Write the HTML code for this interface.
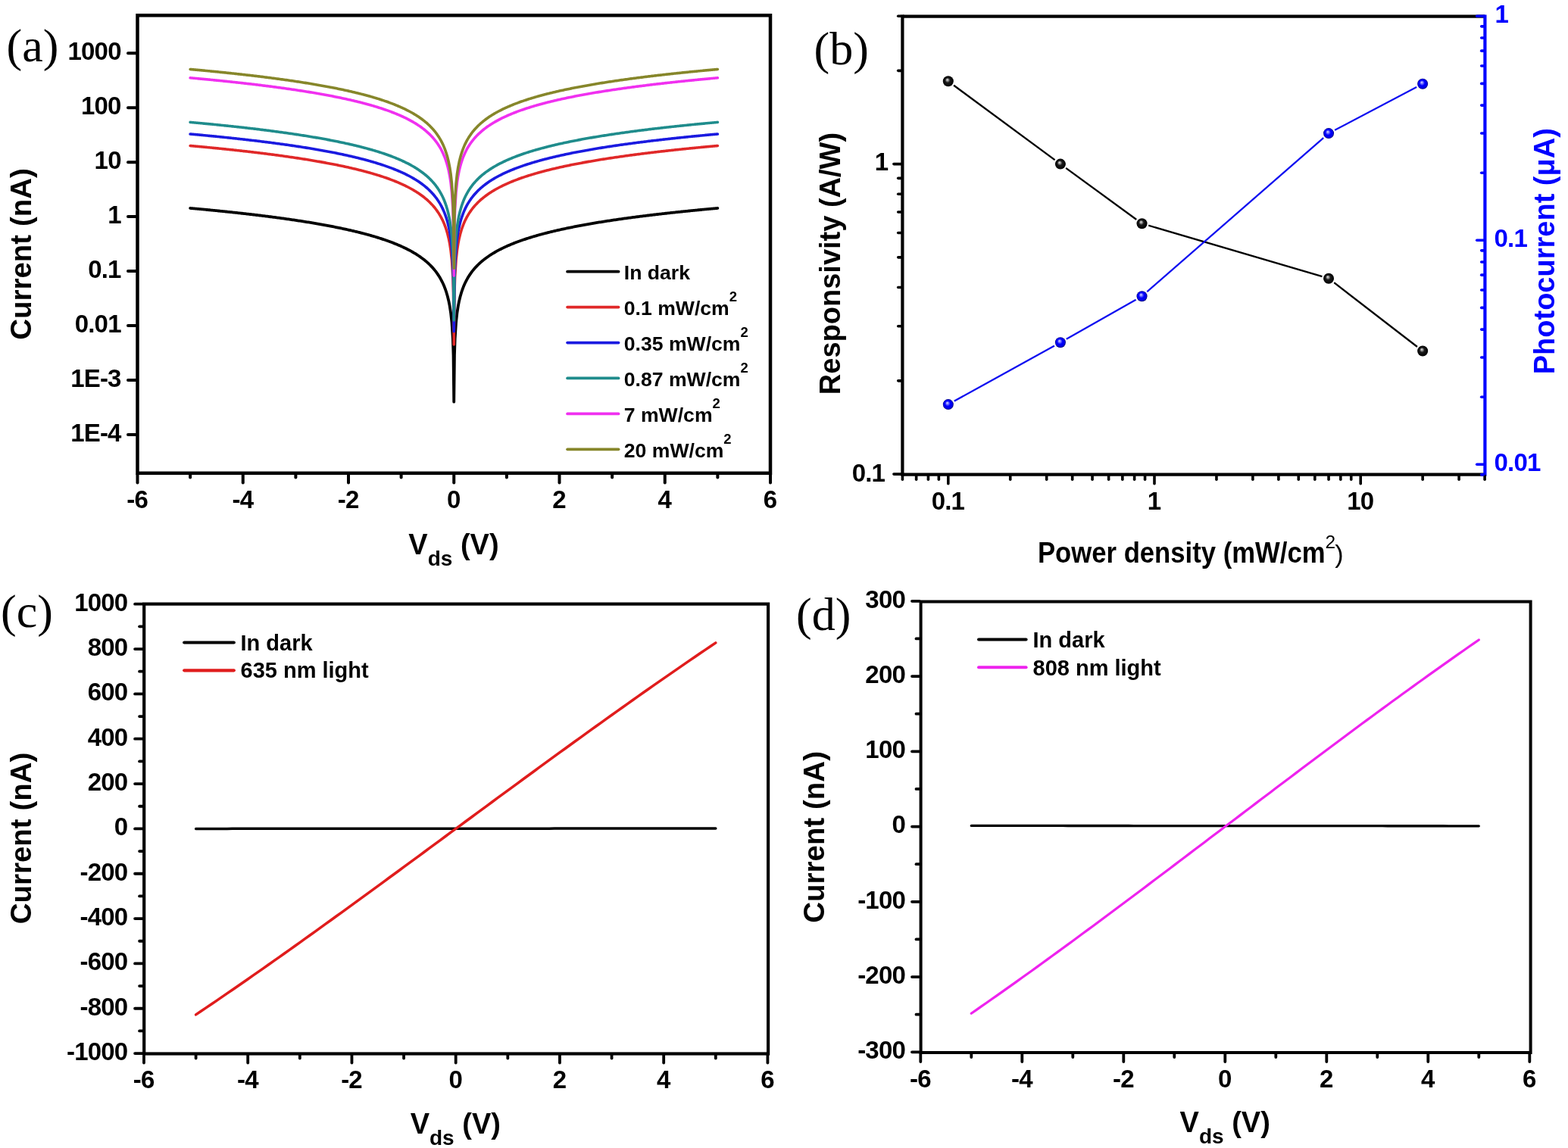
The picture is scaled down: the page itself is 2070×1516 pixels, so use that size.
<!DOCTYPE html>
<html><head><meta charset="utf-8"><title>Photodetector characteristics</title>
<style>html,body{margin:0;padding:0;background:#fff;overflow:hidden}svg{display:block}</style>
</head><body>
<svg xmlns="http://www.w3.org/2000/svg" width="2070" height="1516" viewBox="0 0 2070 1516"><polyline points="251.12,274.92 252.52,275.05 253.91,275.17 255.3,275.3 256.69,275.42 258.09,275.55 259.48,275.68 260.87,275.81 262.26,275.94 263.66,276.07 265.05,276.2 266.44,276.33 267.84,276.46 269.23,276.59 270.62,276.72 272.01,276.85 273.41,276.99 274.8,277.12 276.19,277.26 277.58,277.39 278.98,277.53 280.37,277.66 281.76,277.8 283.15,277.94 284.55,278.08 285.94,278.21 287.33,278.35 288.72,278.49 290.11,278.63 291.51,278.77 292.9,278.92 294.29,279.06 295.69,279.2 297.08,279.35 298.47,279.49 299.86,279.63 301.25,279.78 302.65,279.93 304.04,280.07 305.43,280.22 306.82,280.37 308.22,280.52 309.61,280.67 311,280.82 312.39,280.97 313.79,281.12 315.18,281.28 316.57,281.43 317.97,281.58 319.36,281.74 320.75,281.9 322.14,282.05 323.53,282.21 324.93,282.37 326.32,282.53 327.71,282.69 329.11,282.85 330.5,283.01 331.89,283.17 333.28,283.33 334.68,283.5 336.07,283.66 337.46,283.83 338.85,284 340.25,284.16 341.64,284.33 343.03,284.5 344.42,284.67 345.81,284.84 347.21,285.02 348.6,285.19 349.99,285.36 351.38,285.54 352.78,285.71 354.17,285.89 355.56,286.07 356.96,286.25 358.35,286.43 359.74,286.61 361.13,286.79 362.52,286.97 363.92,287.16 365.31,287.34 366.7,287.53 368.1,287.72 369.49,287.91 370.88,288.1 372.27,288.29 373.66,288.48 375.06,288.67 376.45,288.87 377.84,289.07 379.24,289.26 380.63,289.46 382.02,289.66 383.41,289.86 384.8,290.06 386.2,290.27 387.59,290.47 388.98,290.68 390.38,290.89 391.77,291.1 393.16,291.31 394.55,291.52 395.95,291.73 397.34,291.95 398.73,292.16 400.12,292.38 401.51,292.6 402.91,292.82 404.3,293.04 405.69,293.27 407.09,293.49 408.48,293.72 409.87,293.95 411.26,294.18 412.65,294.41 414.05,294.65 415.44,294.88 416.83,295.12 418.23,295.36 419.62,295.6 421.01,295.84 422.4,296.09 423.79,296.34 425.19,296.59 426.58,296.84 427.97,297.09 429.37,297.34 430.76,297.6 432.15,297.86 433.54,298.12 434.94,298.39 436.33,298.65 437.72,298.92 439.11,299.19 440.5,299.46 441.9,299.74 443.29,300.02 444.68,300.3 446.07,300.58 447.47,300.87 448.86,301.15 450.25,301.45 451.64,301.74 453.04,302.04 454.43,302.33 455.82,302.64 457.21,302.94 458.61,303.25 460,303.56 461.39,303.87 462.79,304.19 464.18,304.51 465.57,304.84 466.96,305.16 468.36,305.49 469.75,305.83 471.14,306.17 472.53,306.51 473.93,306.85 475.32,307.2 476.71,307.56 478.1,307.91 479.5,308.27 480.89,308.64 482.28,309.01 483.67,309.38 485.06,309.76 486.46,310.15 487.85,310.53 489.24,310.93 490.63,311.33 492.03,311.73 493.42,312.14 494.81,312.55 496.2,312.97 497.6,313.4 498.99,313.83 500.38,314.27 501.77,314.71 503.17,315.16 504.56,315.61 505.95,316.08 507.34,316.55 508.74,317.02 510.13,317.51 511.52,318 512.91,318.5 514.31,319.01 515.7,319.53 517.09,320.05 518.48,320.59 519.88,321.13 521.27,321.68 522.66,322.25 524.06,322.82 525.45,323.4 526.84,324 528.23,324.61 529.62,325.23 531.02,325.86 532.41,326.5 533.8,327.16 535.19,327.83 536.59,328.52 537.98,329.22 539.37,329.94 540.77,330.67 542.16,331.43 543.55,332.2 544.94,332.99 546.34,333.8 547.73,334.64 549.12,335.49 550.51,336.37 551.9,337.28 553.3,338.21 554.69,339.17 556.08,340.17 557.48,341.19 558.87,342.25 560.26,343.35 561.65,344.48 563.05,345.66 564.44,346.89 565.83,348.17 567.22,349.5 568.62,350.89 570.01,352.34 571.4,353.87 572.79,355.47 574.18,357.16 575.58,358.94 576.97,360.84 578.36,362.86 579.75,365.01 581.15,367.33 582.54,369.83 583.93,372.55 585.33,375.53 586.72,378.82 588.11,382.5 589.5,386.68 590.89,391.5 592.29,397.2 593.68,404.17 595.07,413.16 596.46,425.84 597.86,447.5 598.55,469.17 599.25,530.65 599.95,469.17 600.64,447.5 602.04,425.84 603.43,413.16 604.82,404.17 606.21,397.2 607.61,391.5 609,386.68 610.39,382.5 611.78,378.82 613.17,375.53 614.57,372.55 615.96,369.83 617.35,367.33 618.75,365.01 620.14,362.86 621.53,360.84 622.92,358.94 624.32,357.16 625.71,355.47 627.1,353.87 628.49,352.34 629.88,350.89 631.28,349.5 632.67,348.17 634.06,346.89 635.45,345.66 636.85,344.48 638.24,343.35 639.63,342.25 641.02,341.19 642.42,340.17 643.81,339.17 645.2,338.21 646.6,337.28 647.99,336.37 649.38,335.49 650.77,334.64 652.16,333.8 653.56,332.99 654.95,332.2 656.34,331.43 657.73,330.67 659.13,329.94 660.52,329.22 661.91,328.52 663.31,327.83 664.7,327.16 666.09,326.5 667.48,325.86 668.88,325.23 670.27,324.61 671.66,324 673.05,323.4 674.44,322.82 675.84,322.25 677.23,321.68 678.62,321.13 680.02,320.59 681.41,320.05 682.8,319.53 684.19,319.01 685.59,318.5 686.98,318 688.37,317.51 689.76,317.02 691.15,316.55 692.55,316.08 693.94,315.61 695.33,315.16 696.73,314.71 698.12,314.27 699.51,313.83 700.9,313.4 702.29,312.97 703.69,312.55 705.08,312.14 706.47,311.73 707.87,311.33 709.26,310.93 710.65,310.53 712.04,310.15 713.43,309.76 714.83,309.38 716.22,309.01 717.61,308.64 719,308.27 720.4,307.91 721.79,307.56 723.18,307.2 724.57,306.85 725.97,306.51 727.36,306.17 728.75,305.83 730.14,305.49 731.54,305.16 732.93,304.84 734.32,304.51 735.72,304.19 737.11,303.87 738.5,303.56 739.89,303.25 741.28,302.94 742.68,302.64 744.07,302.33 745.46,302.04 746.86,301.74 748.25,301.45 749.64,301.15 751.03,300.87 752.42,300.58 753.82,300.3 755.21,300.02 756.6,299.74 758,299.46 759.39,299.19 760.78,298.92 762.17,298.65 763.56,298.39 764.96,298.12 766.35,297.86 767.74,297.6 769.13,297.34 770.53,297.09 771.92,296.84 773.31,296.59 774.71,296.34 776.1,296.09 777.49,295.84 778.88,295.6 780.27,295.36 781.67,295.12 783.06,294.88 784.45,294.65 785.84,294.41 787.24,294.18 788.63,293.95 790.02,293.72 791.41,293.49 792.81,293.27 794.2,293.04 795.59,292.82 796.99,292.6 798.38,292.38 799.77,292.16 801.16,291.95 802.55,291.73 803.95,291.52 805.34,291.31 806.73,291.1 808.12,290.89 809.52,290.68 810.91,290.47 812.3,290.27 813.7,290.06 815.09,289.86 816.48,289.66 817.87,289.46 819.26,289.26 820.66,289.07 822.05,288.87 823.44,288.67 824.84,288.48 826.23,288.29 827.62,288.1 829.01,287.91 830.41,287.72 831.8,287.53 833.19,287.34 834.58,287.16 835.98,286.97 837.37,286.79 838.76,286.61 840.15,286.43 841.54,286.25 842.94,286.07 844.33,285.89 845.72,285.71 847.12,285.54 848.51,285.36 849.9,285.19 851.29,285.02 852.69,284.84 854.08,284.67 855.47,284.5 856.86,284.33 858.25,284.16 859.65,284 861.04,283.83 862.43,283.66 863.83,283.5 865.22,283.33 866.61,283.17 868,283.01 869.39,282.85 870.79,282.69 872.18,282.53 873.57,282.37 874.97,282.21 876.36,282.05 877.75,281.9 879.14,281.74 880.53,281.58 881.93,281.43 883.32,281.28 884.71,281.12 886.11,280.97 887.5,280.82 888.89,280.67 890.28,280.52 891.67,280.37 893.07,280.22 894.46,280.07 895.85,279.93 897.25,279.78 898.64,279.63 900.03,279.49 901.42,279.35 902.81,279.2 904.21,279.06 905.6,278.92 906.99,278.77 908.39,278.63 909.78,278.49 911.17,278.35 912.56,278.21 913.95,278.08 915.35,277.94 916.74,277.8 918.13,277.66 919.52,277.53 920.92,277.39 922.31,277.26 923.7,277.12 925.09,276.99 926.49,276.85 927.88,276.72 929.27,276.59 930.66,276.46 932.06,276.33 933.45,276.2 934.84,276.07 936.24,275.94 937.63,275.81 939.02,275.68 940.41,275.55 941.8,275.42 943.2,275.3 944.59,275.17 945.98,275.05 947.38,274.92" fill="none" stroke="#000000" stroke-width="3.8" stroke-linejoin="round" stroke-linecap="round"/>
<polyline points="251.12,192.46 252.52,192.59 253.91,192.72 255.3,192.84 256.69,192.97 258.09,193.1 259.48,193.22 260.87,193.35 262.26,193.48 263.66,193.61 265.05,193.74 266.44,193.87 267.84,194 269.23,194.13 270.62,194.27 272.01,194.4 273.41,194.53 274.8,194.67 276.19,194.8 277.58,194.94 278.98,195.07 280.37,195.21 281.76,195.34 283.15,195.48 284.55,195.62 285.94,195.76 287.33,195.9 288.72,196.04 290.11,196.18 291.51,196.32 292.9,196.46 294.29,196.6 295.69,196.75 297.08,196.89 298.47,197.03 299.86,197.18 301.25,197.32 302.65,197.47 304.04,197.62 305.43,197.77 306.82,197.91 308.22,198.06 309.61,198.21 311,198.36 312.39,198.52 313.79,198.67 315.18,198.82 316.57,198.97 317.97,199.13 319.36,199.28 320.75,199.44 322.14,199.6 323.53,199.75 324.93,199.91 326.32,200.07 327.71,200.23 329.11,200.39 330.5,200.55 331.89,200.72 333.28,200.88 334.68,201.04 336.07,201.21 337.46,201.37 338.85,201.54 340.25,201.71 341.64,201.88 343.03,202.05 344.42,202.22 345.81,202.39 347.21,202.56 348.6,202.73 349.99,202.91 351.38,203.08 352.78,203.26 354.17,203.44 355.56,203.61 356.96,203.79 358.35,203.97 359.74,204.15 361.13,204.34 362.52,204.52 363.92,204.7 365.31,204.89 366.7,205.08 368.1,205.26 369.49,205.45 370.88,205.64 372.27,205.83 373.66,206.03 375.06,206.22 376.45,206.41 377.84,206.61 379.24,206.81 380.63,207.01 382.02,207.21 383.41,207.41 384.8,207.61 386.2,207.81 387.59,208.02 388.98,208.22 390.38,208.43 391.77,208.64 393.16,208.85 394.55,209.06 395.95,209.28 397.34,209.49 398.73,209.71 400.12,209.93 401.51,210.14 402.91,210.37 404.3,210.59 405.69,210.81 407.09,211.04 408.48,211.26 409.87,211.49 411.26,211.72 412.65,211.96 414.05,212.19 415.44,212.43 416.83,212.66 418.23,212.9 419.62,213.15 421.01,213.39 422.4,213.63 423.79,213.88 425.19,214.13 426.58,214.38 427.97,214.63 429.37,214.89 430.76,215.15 432.15,215.41 433.54,215.67 434.94,215.93 436.33,216.2 437.72,216.47 439.11,216.74 440.5,217.01 441.9,217.28 443.29,217.56 444.68,217.84 446.07,218.13 447.47,218.41 448.86,218.7 450.25,218.99 451.64,219.28 453.04,219.58 454.43,219.88 455.82,220.18 457.21,220.49 458.61,220.79 460,221.1 461.39,221.42 462.79,221.74 464.18,222.06 465.57,222.38 466.96,222.71 468.36,223.04 469.75,223.37 471.14,223.71 472.53,224.05 473.93,224.4 475.32,224.75 476.71,225.1 478.1,225.46 479.5,225.82 480.89,226.18 482.28,226.55 483.67,226.93 485.06,227.31 486.46,227.69 487.85,228.08 489.24,228.47 490.63,228.87 492.03,229.27 493.42,229.68 494.81,230.1 496.2,230.52 497.6,230.94 498.99,231.37 500.38,231.81 501.77,232.25 503.17,232.7 504.56,233.16 505.95,233.62 507.34,234.09 508.74,234.57 510.13,235.05 511.52,235.55 512.91,236.05 514.31,236.55 515.7,237.07 517.09,237.6 518.48,238.13 519.88,238.67 521.27,239.23 522.66,239.79 524.06,240.36 525.45,240.95 526.84,241.54 528.23,242.15 529.62,242.77 531.02,243.4 532.41,244.05 533.8,244.7 535.19,245.38 536.59,246.06 537.98,246.77 539.37,247.48 540.77,248.22 542.16,248.97 543.55,249.74 544.94,250.54 546.34,251.35 547.73,252.18 549.12,253.04 550.51,253.92 551.9,254.82 553.3,255.76 554.69,256.72 556.08,257.71 557.48,258.74 558.87,259.8 560.26,260.89 561.65,262.03 563.05,263.21 564.44,264.43 565.83,265.71 567.22,267.04 568.62,268.43 570.01,269.88 571.4,271.41 572.79,273.01 574.18,274.7 575.58,276.49 576.97,278.38 578.36,280.4 579.75,282.56 581.15,284.87 582.54,287.38 583.93,290.1 585.33,293.07 586.72,296.37 588.11,300.05 589.5,304.22 590.89,309.04 592.29,314.74 593.68,321.71 595.07,330.71 596.46,343.38 597.86,365.04 598.55,386.71 599.25,455 599.95,386.71 600.64,365.04 602.04,343.38 603.43,330.71 604.82,321.71 606.21,314.74 607.61,309.04 609,304.22 610.39,300.05 611.78,296.37 613.17,293.07 614.57,290.1 615.96,287.38 617.35,284.87 618.75,282.56 620.14,280.4 621.53,278.38 622.92,276.49 624.32,274.7 625.71,273.01 627.1,271.41 628.49,269.88 629.88,268.43 631.28,267.04 632.67,265.71 634.06,264.43 635.45,263.21 636.85,262.03 638.24,260.89 639.63,259.8 641.02,258.74 642.42,257.71 643.81,256.72 645.2,255.76 646.6,254.82 647.99,253.92 649.38,253.04 650.77,252.18 652.16,251.35 653.56,250.54 654.95,249.74 656.34,248.97 657.73,248.22 659.13,247.48 660.52,246.77 661.91,246.06 663.31,245.38 664.7,244.7 666.09,244.05 667.48,243.4 668.88,242.77 670.27,242.15 671.66,241.54 673.05,240.95 674.44,240.36 675.84,239.79 677.23,239.23 678.62,238.67 680.02,238.13 681.41,237.6 682.8,237.07 684.19,236.55 685.59,236.05 686.98,235.55 688.37,235.05 689.76,234.57 691.15,234.09 692.55,233.62 693.94,233.16 695.33,232.7 696.73,232.25 698.12,231.81 699.51,231.37 700.9,230.94 702.29,230.52 703.69,230.1 705.08,229.68 706.47,229.27 707.87,228.87 709.26,228.47 710.65,228.08 712.04,227.69 713.43,227.31 714.83,226.93 716.22,226.55 717.61,226.18 719,225.82 720.4,225.46 721.79,225.1 723.18,224.75 724.57,224.4 725.97,224.05 727.36,223.71 728.75,223.37 730.14,223.04 731.54,222.71 732.93,222.38 734.32,222.06 735.72,221.74 737.11,221.42 738.5,221.1 739.89,220.79 741.28,220.49 742.68,220.18 744.07,219.88 745.46,219.58 746.86,219.28 748.25,218.99 749.64,218.7 751.03,218.41 752.42,218.13 753.82,217.84 755.21,217.56 756.6,217.28 758,217.01 759.39,216.74 760.78,216.47 762.17,216.2 763.56,215.93 764.96,215.67 766.35,215.41 767.74,215.15 769.13,214.89 770.53,214.63 771.92,214.38 773.31,214.13 774.71,213.88 776.1,213.63 777.49,213.39 778.88,213.15 780.27,212.9 781.67,212.66 783.06,212.43 784.45,212.19 785.84,211.96 787.24,211.72 788.63,211.49 790.02,211.26 791.41,211.04 792.81,210.81 794.2,210.59 795.59,210.37 796.99,210.14 798.38,209.93 799.77,209.71 801.16,209.49 802.55,209.28 803.95,209.06 805.34,208.85 806.73,208.64 808.12,208.43 809.52,208.22 810.91,208.02 812.3,207.81 813.7,207.61 815.09,207.41 816.48,207.21 817.87,207.01 819.26,206.81 820.66,206.61 822.05,206.41 823.44,206.22 824.84,206.03 826.23,205.83 827.62,205.64 829.01,205.45 830.41,205.26 831.8,205.08 833.19,204.89 834.58,204.7 835.98,204.52 837.37,204.34 838.76,204.15 840.15,203.97 841.54,203.79 842.94,203.61 844.33,203.44 845.72,203.26 847.12,203.08 848.51,202.91 849.9,202.73 851.29,202.56 852.69,202.39 854.08,202.22 855.47,202.05 856.86,201.88 858.25,201.71 859.65,201.54 861.04,201.37 862.43,201.21 863.83,201.04 865.22,200.88 866.61,200.72 868,200.55 869.39,200.39 870.79,200.23 872.18,200.07 873.57,199.91 874.97,199.75 876.36,199.6 877.75,199.44 879.14,199.28 880.53,199.13 881.93,198.97 883.32,198.82 884.71,198.67 886.11,198.52 887.5,198.36 888.89,198.21 890.28,198.06 891.67,197.91 893.07,197.77 894.46,197.62 895.85,197.47 897.25,197.32 898.64,197.18 900.03,197.03 901.42,196.89 902.81,196.75 904.21,196.6 905.6,196.46 906.99,196.32 908.39,196.18 909.78,196.04 911.17,195.9 912.56,195.76 913.95,195.62 915.35,195.48 916.74,195.34 918.13,195.21 919.52,195.07 920.92,194.94 922.31,194.8 923.7,194.67 925.09,194.53 926.49,194.4 927.88,194.27 929.27,194.13 930.66,194 932.06,193.87 933.45,193.74 934.84,193.61 936.24,193.48 937.63,193.35 939.02,193.22 940.41,193.1 941.8,192.97 943.2,192.84 944.59,192.72 945.98,192.59 947.38,192.46" fill="none" stroke="#e02828" stroke-width="3.6" stroke-linejoin="round" stroke-linecap="round"/>
<polyline points="251.12,177 252.52,177.13 253.91,177.25 255.3,177.38 256.69,177.51 258.09,177.63 259.48,177.76 260.87,177.89 262.26,178.02 263.66,178.15 265.05,178.28 266.44,178.41 267.84,178.54 269.23,178.67 270.62,178.8 272.01,178.94 273.41,179.07 274.8,179.2 276.19,179.34 277.58,179.47 278.98,179.61 280.37,179.74 281.76,179.88 283.15,180.02 284.55,180.16 285.94,180.3 287.33,180.43 288.72,180.57 290.11,180.72 291.51,180.86 292.9,181 294.29,181.14 295.69,181.28 297.08,181.43 298.47,181.57 299.86,181.72 301.25,181.86 302.65,182.01 304.04,182.16 305.43,182.3 306.82,182.45 308.22,182.6 309.61,182.75 311,182.9 312.39,183.05 313.79,183.21 315.18,183.36 316.57,183.51 317.97,183.67 319.36,183.82 320.75,183.98 322.14,184.13 323.53,184.29 324.93,184.45 326.32,184.61 327.71,184.77 329.11,184.93 330.5,185.09 331.89,185.25 333.28,185.42 334.68,185.58 336.07,185.75 337.46,185.91 338.85,186.08 340.25,186.25 341.64,186.41 343.03,186.58 344.42,186.75 345.81,186.92 347.21,187.1 348.6,187.27 349.99,187.44 351.38,187.62 352.78,187.8 354.17,187.97 355.56,188.15 356.96,188.33 358.35,188.51 359.74,188.69 361.13,188.87 362.52,189.06 363.92,189.24 365.31,189.43 366.7,189.61 368.1,189.8 369.49,189.99 370.88,190.18 372.27,190.37 373.66,190.56 375.06,190.76 376.45,190.95 377.84,191.15 379.24,191.34 380.63,191.54 382.02,191.74 383.41,191.94 384.8,192.15 386.2,192.35 387.59,192.56 388.98,192.76 390.38,192.97 391.77,193.18 393.16,193.39 394.55,193.6 395.95,193.81 397.34,194.03 398.73,194.24 400.12,194.46 401.51,194.68 402.91,194.9 404.3,195.13 405.69,195.35 407.09,195.58 408.48,195.8 409.87,196.03 411.26,196.26 412.65,196.49 414.05,196.73 415.44,196.96 416.83,197.2 418.23,197.44 419.62,197.68 421.01,197.93 422.4,198.17 423.79,198.42 425.19,198.67 426.58,198.92 427.97,199.17 429.37,199.43 430.76,199.68 432.15,199.94 433.54,200.21 434.94,200.47 436.33,200.73 437.72,201 439.11,201.27 440.5,201.55 441.9,201.82 443.29,202.1 444.68,202.38 446.07,202.66 447.47,202.95 448.86,203.24 450.25,203.53 451.64,203.82 453.04,204.12 454.43,204.42 455.82,204.72 457.21,205.02 458.61,205.33 460,205.64 461.39,205.96 462.79,206.27 464.18,206.59 465.57,206.92 466.96,207.25 468.36,207.58 469.75,207.91 471.14,208.25 472.53,208.59 473.93,208.94 475.32,209.28 476.71,209.64 478.1,210 479.5,210.36 480.89,210.72 482.28,211.09 483.67,211.47 485.06,211.85 486.46,212.23 487.85,212.62 489.24,213.01 490.63,213.41 492.03,213.81 493.42,214.22 494.81,214.63 496.2,215.05 497.6,215.48 498.99,215.91 500.38,216.35 501.77,216.79 503.17,217.24 504.56,217.7 505.95,218.16 507.34,218.63 508.74,219.11 510.13,219.59 511.52,220.08 512.91,220.58 514.31,221.09 515.7,221.61 517.09,222.13 518.48,222.67 519.88,223.21 521.27,223.77 522.66,224.33 524.06,224.9 525.45,225.49 526.84,226.08 528.23,226.69 529.62,227.31 531.02,227.94 532.41,228.58 533.8,229.24 535.19,229.91 536.59,230.6 537.98,231.3 539.37,232.02 540.77,232.76 542.16,233.51 543.55,234.28 544.94,235.07 546.34,235.89 547.73,236.72 549.12,237.58 550.51,238.46 551.9,239.36 553.3,240.29 554.69,241.26 556.08,242.25 557.48,243.27 558.87,244.33 560.26,245.43 561.65,246.57 563.05,247.75 564.44,248.97 565.83,250.25 567.22,251.58 568.62,252.97 570.01,254.42 571.4,255.95 572.79,257.55 574.18,259.24 575.58,261.03 576.97,262.92 578.36,264.94 579.75,267.1 581.15,269.41 582.54,271.91 583.93,274.63 585.33,277.61 586.72,280.91 588.11,284.59 589.5,288.76 590.89,293.58 592.29,299.28 593.68,306.25 595.07,315.24 596.46,327.92 597.86,349.58 598.55,371.25 599.25,437.81 599.95,371.25 600.64,349.58 602.04,327.92 603.43,315.24 604.82,306.25 606.21,299.28 607.61,293.58 609,288.76 610.39,284.59 611.78,280.91 613.17,277.61 614.57,274.63 615.96,271.91 617.35,269.41 618.75,267.1 620.14,264.94 621.53,262.92 622.92,261.03 624.32,259.24 625.71,257.55 627.1,255.95 628.49,254.42 629.88,252.97 631.28,251.58 632.67,250.25 634.06,248.97 635.45,247.75 636.85,246.57 638.24,245.43 639.63,244.33 641.02,243.27 642.42,242.25 643.81,241.26 645.2,240.29 646.6,239.36 647.99,238.46 649.38,237.58 650.77,236.72 652.16,235.89 653.56,235.07 654.95,234.28 656.34,233.51 657.73,232.76 659.13,232.02 660.52,231.3 661.91,230.6 663.31,229.91 664.7,229.24 666.09,228.58 667.48,227.94 668.88,227.31 670.27,226.69 671.66,226.08 673.05,225.49 674.44,224.9 675.84,224.33 677.23,223.77 678.62,223.21 680.02,222.67 681.41,222.13 682.8,221.61 684.19,221.09 685.59,220.58 686.98,220.08 688.37,219.59 689.76,219.11 691.15,218.63 692.55,218.16 693.94,217.7 695.33,217.24 696.73,216.79 698.12,216.35 699.51,215.91 700.9,215.48 702.29,215.05 703.69,214.63 705.08,214.22 706.47,213.81 707.87,213.41 709.26,213.01 710.65,212.62 712.04,212.23 713.43,211.85 714.83,211.47 716.22,211.09 717.61,210.72 719,210.36 720.4,210 721.79,209.64 723.18,209.28 724.57,208.94 725.97,208.59 727.36,208.25 728.75,207.91 730.14,207.58 731.54,207.25 732.93,206.92 734.32,206.59 735.72,206.27 737.11,205.96 738.5,205.64 739.89,205.33 741.28,205.02 742.68,204.72 744.07,204.42 745.46,204.12 746.86,203.82 748.25,203.53 749.64,203.24 751.03,202.95 752.42,202.66 753.82,202.38 755.21,202.1 756.6,201.82 758,201.55 759.39,201.27 760.78,201 762.17,200.73 763.56,200.47 764.96,200.21 766.35,199.94 767.74,199.68 769.13,199.43 770.53,199.17 771.92,198.92 773.31,198.67 774.71,198.42 776.1,198.17 777.49,197.93 778.88,197.68 780.27,197.44 781.67,197.2 783.06,196.96 784.45,196.73 785.84,196.49 787.24,196.26 788.63,196.03 790.02,195.8 791.41,195.58 792.81,195.35 794.2,195.13 795.59,194.9 796.99,194.68 798.38,194.46 799.77,194.24 801.16,194.03 802.55,193.81 803.95,193.6 805.34,193.39 806.73,193.18 808.12,192.97 809.52,192.76 810.91,192.56 812.3,192.35 813.7,192.15 815.09,191.94 816.48,191.74 817.87,191.54 819.26,191.34 820.66,191.15 822.05,190.95 823.44,190.76 824.84,190.56 826.23,190.37 827.62,190.18 829.01,189.99 830.41,189.8 831.8,189.61 833.19,189.43 834.58,189.24 835.98,189.06 837.37,188.87 838.76,188.69 840.15,188.51 841.54,188.33 842.94,188.15 844.33,187.97 845.72,187.8 847.12,187.62 848.51,187.44 849.9,187.27 851.29,187.1 852.69,186.92 854.08,186.75 855.47,186.58 856.86,186.41 858.25,186.25 859.65,186.08 861.04,185.91 862.43,185.75 863.83,185.58 865.22,185.42 866.61,185.25 868,185.09 869.39,184.93 870.79,184.77 872.18,184.61 873.57,184.45 874.97,184.29 876.36,184.13 877.75,183.98 879.14,183.82 880.53,183.67 881.93,183.51 883.32,183.36 884.71,183.21 886.11,183.05 887.5,182.9 888.89,182.75 890.28,182.6 891.67,182.45 893.07,182.3 894.46,182.16 895.85,182.01 897.25,181.86 898.64,181.72 900.03,181.57 901.42,181.43 902.81,181.28 904.21,181.14 905.6,181 906.99,180.86 908.39,180.72 909.78,180.57 911.17,180.43 912.56,180.3 913.95,180.16 915.35,180.02 916.74,179.88 918.13,179.74 919.52,179.61 920.92,179.47 922.31,179.34 923.7,179.2 925.09,179.07 926.49,178.94 927.88,178.8 929.27,178.67 930.66,178.54 932.06,178.41 933.45,178.28 934.84,178.15 936.24,178.02 937.63,177.89 939.02,177.76 940.41,177.63 941.8,177.51 943.2,177.38 944.59,177.25 945.98,177.13 947.38,177" fill="none" stroke="#1a1ae0" stroke-width="3.6" stroke-linejoin="round" stroke-linecap="round"/>
<polyline points="251.12,161.42 252.52,161.54 253.91,161.67 255.3,161.8 256.69,161.92 258.09,162.05 259.48,162.18 260.87,162.31 262.26,162.44 263.66,162.57 265.05,162.7 266.44,162.83 267.84,162.96 269.23,163.09 270.62,163.22 272.01,163.35 273.41,163.49 274.8,163.62 276.19,163.76 277.58,163.89 278.98,164.03 280.37,164.16 281.76,164.3 283.15,164.44 284.55,164.57 285.94,164.71 287.33,164.85 288.72,164.99 290.11,165.13 291.51,165.27 292.9,165.42 294.29,165.56 295.69,165.7 297.08,165.84 298.47,165.99 299.86,166.13 301.25,166.28 302.65,166.43 304.04,166.57 305.43,166.72 306.82,166.87 308.22,167.02 309.61,167.17 311,167.32 312.39,167.47 313.79,167.62 315.18,167.78 316.57,167.93 317.97,168.08 319.36,168.24 320.75,168.39 322.14,168.55 323.53,168.71 324.93,168.87 326.32,169.03 327.71,169.19 329.11,169.35 330.5,169.51 331.89,169.67 333.28,169.83 334.68,170 336.07,170.16 337.46,170.33 338.85,170.49 340.25,170.66 341.64,170.83 343.03,171 344.42,171.17 345.81,171.34 347.21,171.51 348.6,171.69 349.99,171.86 351.38,172.04 352.78,172.21 354.17,172.39 355.56,172.57 356.96,172.75 358.35,172.93 359.74,173.11 361.13,173.29 362.52,173.47 363.92,173.66 365.31,173.84 366.7,174.03 368.1,174.22 369.49,174.41 370.88,174.6 372.27,174.79 373.66,174.98 375.06,175.17 376.45,175.37 377.84,175.56 379.24,175.76 380.63,175.96 382.02,176.16 383.41,176.36 384.8,176.56 386.2,176.77 387.59,176.97 388.98,177.18 390.38,177.39 391.77,177.6 393.16,177.81 394.55,178.02 395.95,178.23 397.34,178.45 398.73,178.66 400.12,178.88 401.51,179.1 402.91,179.32 404.3,179.54 405.69,179.77 407.09,179.99 408.48,180.22 409.87,180.45 411.26,180.68 412.65,180.91 414.05,181.15 415.44,181.38 416.83,181.62 418.23,181.86 419.62,182.1 421.01,182.34 422.4,182.59 423.79,182.84 425.19,183.08 426.58,183.34 427.97,183.59 429.37,183.84 430.76,184.1 432.15,184.36 433.54,184.62 434.94,184.89 436.33,185.15 437.72,185.42 439.11,185.69 440.5,185.96 441.9,186.24 443.29,186.52 444.68,186.8 446.07,187.08 447.47,187.37 448.86,187.65 450.25,187.94 451.64,188.24 453.04,188.53 454.43,188.83 455.82,189.14 457.21,189.44 458.61,189.75 460,190.06 461.39,190.37 462.79,190.69 464.18,191.01 465.57,191.34 466.96,191.66 468.36,191.99 469.75,192.33 471.14,192.67 472.53,193.01 473.93,193.35 475.32,193.7 476.71,194.05 478.1,194.41 479.5,194.77 480.89,195.14 482.28,195.51 483.67,195.88 485.06,196.26 486.46,196.65 487.85,197.03 489.24,197.43 490.63,197.83 492.03,198.23 493.42,198.64 494.81,199.05 496.2,199.47 497.6,199.9 498.99,200.33 500.38,200.76 501.77,201.21 503.17,201.66 504.56,202.11 505.95,202.58 507.34,203.05 508.74,203.52 510.13,204.01 511.52,204.5 512.91,205 514.31,205.51 515.7,206.03 517.09,206.55 518.48,207.09 519.88,207.63 521.27,208.18 522.66,208.75 524.06,209.32 525.45,209.9 526.84,210.5 528.23,211.11 529.62,211.72 531.02,212.36 532.41,213 533.8,213.66 535.19,214.33 536.59,215.02 537.98,215.72 539.37,216.44 540.77,217.17 542.16,217.93 543.55,218.7 544.94,219.49 546.34,220.3 547.73,221.14 549.12,221.99 550.51,222.87 551.9,223.78 553.3,224.71 554.69,225.67 556.08,226.67 557.48,227.69 558.87,228.75 560.26,229.85 561.65,230.98 563.05,232.16 564.44,233.39 565.83,234.67 567.22,236 568.62,237.39 570.01,238.84 571.4,240.36 572.79,241.97 574.18,243.66 575.58,245.44 576.97,247.34 578.36,249.36 579.75,251.51 581.15,253.83 582.54,256.33 583.93,259.05 585.33,262.03 586.72,265.32 588.11,269 589.5,273.18 590.89,278 592.29,283.69 593.68,290.67 595.07,299.66 596.46,312.33 597.86,334 598.55,355.66 599.25,423.07 599.95,355.66 600.64,334 602.04,312.33 603.43,299.66 604.82,290.67 606.21,283.69 607.61,278 609,273.18 610.39,269 611.78,265.32 613.17,262.03 614.57,259.05 615.96,256.33 617.35,253.83 618.75,251.51 620.14,249.36 621.53,247.34 622.92,245.44 624.32,243.66 625.71,241.97 627.1,240.36 628.49,238.84 629.88,237.39 631.28,236 632.67,234.67 634.06,233.39 635.45,232.16 636.85,230.98 638.24,229.85 639.63,228.75 641.02,227.69 642.42,226.67 643.81,225.67 645.2,224.71 646.6,223.78 647.99,222.87 649.38,221.99 650.77,221.14 652.16,220.3 653.56,219.49 654.95,218.7 656.34,217.93 657.73,217.17 659.13,216.44 660.52,215.72 661.91,215.02 663.31,214.33 664.7,213.66 666.09,213 667.48,212.36 668.88,211.72 670.27,211.11 671.66,210.5 673.05,209.9 674.44,209.32 675.84,208.75 677.23,208.18 678.62,207.63 680.02,207.09 681.41,206.55 682.8,206.03 684.19,205.51 685.59,205 686.98,204.5 688.37,204.01 689.76,203.52 691.15,203.05 692.55,202.58 693.94,202.11 695.33,201.66 696.73,201.21 698.12,200.76 699.51,200.33 700.9,199.9 702.29,199.47 703.69,199.05 705.08,198.64 706.47,198.23 707.87,197.83 709.26,197.43 710.65,197.03 712.04,196.65 713.43,196.26 714.83,195.88 716.22,195.51 717.61,195.14 719,194.77 720.4,194.41 721.79,194.05 723.18,193.7 724.57,193.35 725.97,193.01 727.36,192.67 728.75,192.33 730.14,191.99 731.54,191.66 732.93,191.34 734.32,191.01 735.72,190.69 737.11,190.37 738.5,190.06 739.89,189.75 741.28,189.44 742.68,189.14 744.07,188.83 745.46,188.53 746.86,188.24 748.25,187.94 749.64,187.65 751.03,187.37 752.42,187.08 753.82,186.8 755.21,186.52 756.6,186.24 758,185.96 759.39,185.69 760.78,185.42 762.17,185.15 763.56,184.89 764.96,184.62 766.35,184.36 767.74,184.1 769.13,183.84 770.53,183.59 771.92,183.34 773.31,183.08 774.71,182.84 776.1,182.59 777.49,182.34 778.88,182.1 780.27,181.86 781.67,181.62 783.06,181.38 784.45,181.15 785.84,180.91 787.24,180.68 788.63,180.45 790.02,180.22 791.41,179.99 792.81,179.77 794.2,179.54 795.59,179.32 796.99,179.1 798.38,178.88 799.77,178.66 801.16,178.45 802.55,178.23 803.95,178.02 805.34,177.81 806.73,177.6 808.12,177.39 809.52,177.18 810.91,176.97 812.3,176.77 813.7,176.56 815.09,176.36 816.48,176.16 817.87,175.96 819.26,175.76 820.66,175.56 822.05,175.37 823.44,175.17 824.84,174.98 826.23,174.79 827.62,174.6 829.01,174.41 830.41,174.22 831.8,174.03 833.19,173.84 834.58,173.66 835.98,173.47 837.37,173.29 838.76,173.11 840.15,172.93 841.54,172.75 842.94,172.57 844.33,172.39 845.72,172.21 847.12,172.04 848.51,171.86 849.9,171.69 851.29,171.51 852.69,171.34 854.08,171.17 855.47,171 856.86,170.83 858.25,170.66 859.65,170.49 861.04,170.33 862.43,170.16 863.83,170 865.22,169.83 866.61,169.67 868,169.51 869.39,169.35 870.79,169.19 872.18,169.03 873.57,168.87 874.97,168.71 876.36,168.55 877.75,168.39 879.14,168.24 880.53,168.08 881.93,167.93 883.32,167.78 884.71,167.62 886.11,167.47 887.5,167.32 888.89,167.17 890.28,167.02 891.67,166.87 893.07,166.72 894.46,166.57 895.85,166.43 897.25,166.28 898.64,166.13 900.03,165.99 901.42,165.84 902.81,165.7 904.21,165.56 905.6,165.42 906.99,165.27 908.39,165.13 909.78,164.99 911.17,164.85 912.56,164.71 913.95,164.57 915.35,164.44 916.74,164.3 918.13,164.16 919.52,164.03 920.92,163.89 922.31,163.76 923.7,163.62 925.09,163.49 926.49,163.35 927.88,163.22 929.27,163.09 930.66,162.96 932.06,162.83 933.45,162.7 934.84,162.57 936.24,162.44 937.63,162.31 939.02,162.18 940.41,162.05 941.8,161.92 943.2,161.8 944.59,161.67 945.98,161.54 947.38,161.42" fill="none" stroke="#1f8c8c" stroke-width="3.6" stroke-linejoin="round" stroke-linecap="round"/>
<polyline points="251.12,102.83 252.52,102.95 253.91,103.08 255.3,103.2 256.69,103.33 258.09,103.46 259.48,103.58 260.87,103.71 262.26,103.84 263.66,103.97 265.05,104.1 266.44,104.23 267.84,104.36 269.23,104.49 270.62,104.63 272.01,104.76 273.41,104.89 274.8,105.03 276.19,105.16 277.58,105.3 278.98,105.43 280.37,105.57 281.76,105.7 283.15,105.84 284.55,105.98 285.94,106.12 287.33,106.26 288.72,106.4 290.11,106.54 291.51,106.68 292.9,106.82 294.29,106.96 295.69,107.11 297.08,107.25 298.47,107.39 299.86,107.54 301.25,107.69 302.65,107.83 304.04,107.98 305.43,108.13 306.82,108.27 308.22,108.42 309.61,108.57 311,108.72 312.39,108.88 313.79,109.03 315.18,109.18 316.57,109.33 317.97,109.49 319.36,109.64 320.75,109.8 322.14,109.96 323.53,110.11 324.93,110.27 326.32,110.43 327.71,110.59 329.11,110.75 330.5,110.91 331.89,111.08 333.28,111.24 334.68,111.4 336.07,111.57 337.46,111.73 338.85,111.9 340.25,112.07 341.64,112.24 343.03,112.41 344.42,112.58 345.81,112.75 347.21,112.92 348.6,113.09 349.99,113.27 351.38,113.44 352.78,113.62 354.17,113.8 355.56,113.97 356.96,114.15 358.35,114.33 359.74,114.51 361.13,114.7 362.52,114.88 363.92,115.06 365.31,115.25 366.7,115.44 368.1,115.62 369.49,115.81 370.88,116 372.27,116.19 373.66,116.39 375.06,116.58 376.45,116.77 377.84,116.97 379.24,117.17 380.63,117.37 382.02,117.57 383.41,117.77 384.8,117.97 386.2,118.17 387.59,118.38 388.98,118.58 390.38,118.79 391.77,119 393.16,119.21 394.55,119.42 395.95,119.64 397.34,119.85 398.73,120.07 400.12,120.29 401.51,120.5 402.91,120.73 404.3,120.95 405.69,121.17 407.09,121.4 408.48,121.63 409.87,121.85 411.26,122.08 412.65,122.32 414.05,122.55 415.44,122.79 416.83,123.03 418.23,123.26 419.62,123.51 421.01,123.75 422.4,123.99 423.79,124.24 425.19,124.49 426.58,124.74 427.97,124.99 429.37,125.25 430.76,125.51 432.15,125.77 433.54,126.03 434.94,126.29 436.33,126.56 437.72,126.83 439.11,127.1 440.5,127.37 441.9,127.65 443.29,127.92 444.68,128.2 446.07,128.49 447.47,128.77 448.86,129.06 450.25,129.35 451.64,129.64 453.04,129.94 454.43,130.24 455.82,130.54 457.21,130.85 458.61,131.15 460,131.47 461.39,131.78 462.79,132.1 464.18,132.42 465.57,132.74 466.96,133.07 468.36,133.4 469.75,133.73 471.14,134.07 472.53,134.41 473.93,134.76 475.32,135.11 476.71,135.46 478.1,135.82 479.5,136.18 480.89,136.54 482.28,136.91 483.67,137.29 485.06,137.67 486.46,138.05 487.85,138.44 489.24,138.83 490.63,139.23 492.03,139.63 493.42,140.04 494.81,140.46 496.2,140.88 497.6,141.3 498.99,141.73 500.38,142.17 501.77,142.61 503.17,143.06 504.56,143.52 505.95,143.98 507.34,144.45 508.74,144.93 510.13,145.41 511.52,145.91 512.91,146.41 514.31,146.91 515.7,147.43 517.09,147.96 518.48,148.49 519.88,149.03 521.27,149.59 522.66,150.15 524.06,150.72 525.45,151.31 526.84,151.9 528.23,152.51 529.62,153.13 531.02,153.76 532.41,154.41 533.8,155.06 535.19,155.74 536.59,156.42 537.98,157.13 539.37,157.84 540.77,158.58 542.16,159.33 543.55,160.1 544.94,160.9 546.34,161.71 547.73,162.54 549.12,163.4 550.51,164.28 551.9,165.18 553.3,166.12 554.69,167.08 556.08,168.07 557.48,169.1 558.87,170.16 560.26,171.25 561.65,172.39 563.05,173.57 564.44,174.8 565.83,176.07 567.22,177.4 568.62,178.79 570.01,180.24 571.4,181.77 572.79,183.37 574.18,185.06 575.58,186.85 576.97,188.74 578.36,190.76 579.75,192.92 581.15,195.23 582.54,197.74 583.93,200.46 585.33,203.44 586.72,206.73 588.11,210.41 589.5,214.58 590.89,219.4 592.29,225.1 593.68,232.07 595.07,241.07 596.46,253.74 597.86,275.41 598.55,297.07 599.25,364.08 599.95,297.07 600.64,275.41 602.04,253.74 603.43,241.07 604.82,232.07 606.21,225.1 607.61,219.4 609,214.58 610.39,210.41 611.78,206.73 613.17,203.44 614.57,200.46 615.96,197.74 617.35,195.23 618.75,192.92 620.14,190.76 621.53,188.74 622.92,186.85 624.32,185.06 625.71,183.37 627.1,181.77 628.49,180.24 629.88,178.79 631.28,177.4 632.67,176.07 634.06,174.8 635.45,173.57 636.85,172.39 638.24,171.25 639.63,170.16 641.02,169.1 642.42,168.07 643.81,167.08 645.2,166.12 646.6,165.18 647.99,164.28 649.38,163.4 650.77,162.54 652.16,161.71 653.56,160.9 654.95,160.1 656.34,159.33 657.73,158.58 659.13,157.84 660.52,157.13 661.91,156.42 663.31,155.74 664.7,155.06 666.09,154.41 667.48,153.76 668.88,153.13 670.27,152.51 671.66,151.9 673.05,151.31 674.44,150.72 675.84,150.15 677.23,149.59 678.62,149.03 680.02,148.49 681.41,147.96 682.8,147.43 684.19,146.91 685.59,146.41 686.98,145.91 688.37,145.41 689.76,144.93 691.15,144.45 692.55,143.98 693.94,143.52 695.33,143.06 696.73,142.61 698.12,142.17 699.51,141.73 700.9,141.3 702.29,140.88 703.69,140.46 705.08,140.04 706.47,139.63 707.87,139.23 709.26,138.83 710.65,138.44 712.04,138.05 713.43,137.67 714.83,137.29 716.22,136.91 717.61,136.54 719,136.18 720.4,135.82 721.79,135.46 723.18,135.11 724.57,134.76 725.97,134.41 727.36,134.07 728.75,133.73 730.14,133.4 731.54,133.07 732.93,132.74 734.32,132.42 735.72,132.1 737.11,131.78 738.5,131.47 739.89,131.15 741.28,130.85 742.68,130.54 744.07,130.24 745.46,129.94 746.86,129.64 748.25,129.35 749.64,129.06 751.03,128.77 752.42,128.49 753.82,128.2 755.21,127.92 756.6,127.65 758,127.37 759.39,127.1 760.78,126.83 762.17,126.56 763.56,126.29 764.96,126.03 766.35,125.77 767.74,125.51 769.13,125.25 770.53,124.99 771.92,124.74 773.31,124.49 774.71,124.24 776.1,123.99 777.49,123.75 778.88,123.51 780.27,123.26 781.67,123.03 783.06,122.79 784.45,122.55 785.84,122.32 787.24,122.08 788.63,121.85 790.02,121.63 791.41,121.4 792.81,121.17 794.2,120.95 795.59,120.73 796.99,120.5 798.38,120.29 799.77,120.07 801.16,119.85 802.55,119.64 803.95,119.42 805.34,119.21 806.73,119 808.12,118.79 809.52,118.58 810.91,118.38 812.3,118.17 813.7,117.97 815.09,117.77 816.48,117.57 817.87,117.37 819.26,117.17 820.66,116.97 822.05,116.77 823.44,116.58 824.84,116.39 826.23,116.19 827.62,116 829.01,115.81 830.41,115.62 831.8,115.44 833.19,115.25 834.58,115.06 835.98,114.88 837.37,114.7 838.76,114.51 840.15,114.33 841.54,114.15 842.94,113.97 844.33,113.8 845.72,113.62 847.12,113.44 848.51,113.27 849.9,113.09 851.29,112.92 852.69,112.75 854.08,112.58 855.47,112.41 856.86,112.24 858.25,112.07 859.65,111.9 861.04,111.73 862.43,111.57 863.83,111.4 865.22,111.24 866.61,111.08 868,110.91 869.39,110.75 870.79,110.59 872.18,110.43 873.57,110.27 874.97,110.11 876.36,109.96 877.75,109.8 879.14,109.64 880.53,109.49 881.93,109.33 883.32,109.18 884.71,109.03 886.11,108.88 887.5,108.72 888.89,108.57 890.28,108.42 891.67,108.27 893.07,108.13 894.46,107.98 895.85,107.83 897.25,107.69 898.64,107.54 900.03,107.39 901.42,107.25 902.81,107.11 904.21,106.96 905.6,106.82 906.99,106.68 908.39,106.54 909.78,106.4 911.17,106.26 912.56,106.12 913.95,105.98 915.35,105.84 916.74,105.7 918.13,105.57 919.52,105.43 920.92,105.3 922.31,105.16 923.7,105.03 925.09,104.89 926.49,104.76 927.88,104.63 929.27,104.49 930.66,104.36 932.06,104.23 933.45,104.1 934.84,103.97 936.24,103.84 937.63,103.71 939.02,103.58 940.41,103.46 941.8,103.33 943.2,103.2 944.59,103.08 945.98,102.95 947.38,102.83" fill="none" stroke="#f030f0" stroke-width="3.6" stroke-linejoin="round" stroke-linecap="round"/>
<polyline points="251.12,91.48 252.52,91.61 253.91,91.73 255.3,91.86 256.69,91.99 258.09,92.11 259.48,92.24 260.87,92.37 262.26,92.5 263.66,92.63 265.05,92.76 266.44,92.89 267.84,93.02 269.23,93.15 270.62,93.28 272.01,93.42 273.41,93.55 274.8,93.68 276.19,93.82 277.58,93.95 278.98,94.09 280.37,94.22 281.76,94.36 283.15,94.5 284.55,94.64 285.94,94.78 287.33,94.91 288.72,95.05 290.11,95.2 291.51,95.34 292.9,95.48 294.29,95.62 295.69,95.76 297.08,95.91 298.47,96.05 299.86,96.2 301.25,96.34 302.65,96.49 304.04,96.64 305.43,96.78 306.82,96.93 308.22,97.08 309.61,97.23 311,97.38 312.39,97.53 313.79,97.69 315.18,97.84 316.57,97.99 317.97,98.15 319.36,98.3 320.75,98.46 322.14,98.61 323.53,98.77 324.93,98.93 326.32,99.09 327.71,99.25 329.11,99.41 330.5,99.57 331.89,99.73 333.28,99.9 334.68,100.06 336.07,100.23 337.46,100.39 338.85,100.56 340.25,100.73 341.64,100.89 343.03,101.06 344.42,101.23 345.81,101.4 347.21,101.58 348.6,101.75 349.99,101.92 351.38,102.1 352.78,102.28 354.17,102.45 355.56,102.63 356.96,102.81 358.35,102.99 359.74,103.17 361.13,103.35 362.52,103.54 363.92,103.72 365.31,103.91 366.7,104.09 368.1,104.28 369.49,104.47 370.88,104.66 372.27,104.85 373.66,105.04 375.06,105.24 376.45,105.43 377.84,105.63 379.24,105.82 380.63,106.02 382.02,106.22 383.41,106.42 384.8,106.63 386.2,106.83 387.59,107.03 388.98,107.24 390.38,107.45 391.77,107.66 393.16,107.87 394.55,108.08 395.95,108.29 397.34,108.51 398.73,108.72 400.12,108.94 401.51,109.16 402.91,109.38 404.3,109.61 405.69,109.83 407.09,110.05 408.48,110.28 409.87,110.51 411.26,110.74 412.65,110.97 414.05,111.21 415.44,111.44 416.83,111.68 418.23,111.92 419.62,112.16 421.01,112.41 422.4,112.65 423.79,112.9 425.19,113.15 426.58,113.4 427.97,113.65 429.37,113.91 430.76,114.16 432.15,114.42 433.54,114.68 434.94,114.95 436.33,115.21 437.72,115.48 439.11,115.75 440.5,116.03 441.9,116.3 443.29,116.58 444.68,116.86 446.07,117.14 447.47,117.43 448.86,117.72 450.25,118.01 451.64,118.3 453.04,118.6 454.43,118.9 455.82,119.2 457.21,119.5 458.61,119.81 460,120.12 461.39,120.44 462.79,120.75 464.18,121.07 465.57,121.4 466.96,121.73 468.36,122.06 469.75,122.39 471.14,122.73 472.53,123.07 473.93,123.42 475.32,123.76 476.71,124.12 478.1,124.47 479.5,124.84 480.89,125.2 482.28,125.57 483.67,125.95 485.06,126.32 486.46,126.71 487.85,127.1 489.24,127.49 490.63,127.89 492.03,128.29 493.42,128.7 494.81,129.11 496.2,129.53 497.6,129.96 498.99,130.39 500.38,130.83 501.77,131.27 503.17,131.72 504.56,132.18 505.95,132.64 507.34,133.11 508.74,133.59 510.13,134.07 511.52,134.56 512.91,135.06 514.31,135.57 515.7,136.09 517.09,136.61 518.48,137.15 519.88,137.69 521.27,138.24 522.66,138.81 524.06,139.38 525.45,139.97 526.84,140.56 528.23,141.17 529.62,141.79 531.02,142.42 532.41,143.06 533.8,143.72 535.19,144.39 536.59,145.08 537.98,145.78 539.37,146.5 540.77,147.24 542.16,147.99 543.55,148.76 544.94,149.55 546.34,150.37 547.73,151.2 549.12,152.05 550.51,152.94 551.9,153.84 553.3,154.77 554.69,155.74 556.08,156.73 557.48,157.75 558.87,158.81 560.26,159.91 561.65,161.05 563.05,162.23 564.44,163.45 565.83,164.73 567.22,166.06 568.62,167.45 570.01,168.9 571.4,170.43 572.79,172.03 574.18,173.72 575.58,175.51 576.97,177.4 578.36,179.42 579.75,181.58 581.15,183.89 582.54,186.39 583.93,189.11 585.33,192.09 586.72,195.39 588.11,199.07 589.5,203.24 590.89,208.06 592.29,213.76 593.68,220.73 595.07,229.72 596.46,242.4 597.86,264.06 598.55,285.73 599.25,354.25 599.95,285.73 600.64,264.06 602.04,242.4 603.43,229.72 604.82,220.73 606.21,213.76 607.61,208.06 609,203.24 610.39,199.07 611.78,195.39 613.17,192.09 614.57,189.11 615.96,186.39 617.35,183.89 618.75,181.58 620.14,179.42 621.53,177.4 622.92,175.51 624.32,173.72 625.71,172.03 627.1,170.43 628.49,168.9 629.88,167.45 631.28,166.06 632.67,164.73 634.06,163.45 635.45,162.23 636.85,161.05 638.24,159.91 639.63,158.81 641.02,157.75 642.42,156.73 643.81,155.74 645.2,154.77 646.6,153.84 647.99,152.94 649.38,152.05 650.77,151.2 652.16,150.37 653.56,149.55 654.95,148.76 656.34,147.99 657.73,147.24 659.13,146.5 660.52,145.78 661.91,145.08 663.31,144.39 664.7,143.72 666.09,143.06 667.48,142.42 668.88,141.79 670.27,141.17 671.66,140.56 673.05,139.97 674.44,139.38 675.84,138.81 677.23,138.24 678.62,137.69 680.02,137.15 681.41,136.61 682.8,136.09 684.19,135.57 685.59,135.06 686.98,134.56 688.37,134.07 689.76,133.59 691.15,133.11 692.55,132.64 693.94,132.18 695.33,131.72 696.73,131.27 698.12,130.83 699.51,130.39 700.9,129.96 702.29,129.53 703.69,129.11 705.08,128.7 706.47,128.29 707.87,127.89 709.26,127.49 710.65,127.1 712.04,126.71 713.43,126.32 714.83,125.95 716.22,125.57 717.61,125.2 719,124.84 720.4,124.47 721.79,124.12 723.18,123.76 724.57,123.42 725.97,123.07 727.36,122.73 728.75,122.39 730.14,122.06 731.54,121.73 732.93,121.4 734.32,121.07 735.72,120.75 737.11,120.44 738.5,120.12 739.89,119.81 741.28,119.5 742.68,119.2 744.07,118.9 745.46,118.6 746.86,118.3 748.25,118.01 749.64,117.72 751.03,117.43 752.42,117.14 753.82,116.86 755.21,116.58 756.6,116.3 758,116.03 759.39,115.75 760.78,115.48 762.17,115.21 763.56,114.95 764.96,114.68 766.35,114.42 767.74,114.16 769.13,113.91 770.53,113.65 771.92,113.4 773.31,113.15 774.71,112.9 776.1,112.65 777.49,112.41 778.88,112.16 780.27,111.92 781.67,111.68 783.06,111.44 784.45,111.21 785.84,110.97 787.24,110.74 788.63,110.51 790.02,110.28 791.41,110.05 792.81,109.83 794.2,109.61 795.59,109.38 796.99,109.16 798.38,108.94 799.77,108.72 801.16,108.51 802.55,108.29 803.95,108.08 805.34,107.87 806.73,107.66 808.12,107.45 809.52,107.24 810.91,107.03 812.3,106.83 813.7,106.63 815.09,106.42 816.48,106.22 817.87,106.02 819.26,105.82 820.66,105.63 822.05,105.43 823.44,105.24 824.84,105.04 826.23,104.85 827.62,104.66 829.01,104.47 830.41,104.28 831.8,104.09 833.19,103.91 834.58,103.72 835.98,103.54 837.37,103.35 838.76,103.17 840.15,102.99 841.54,102.81 842.94,102.63 844.33,102.45 845.72,102.28 847.12,102.1 848.51,101.92 849.9,101.75 851.29,101.58 852.69,101.4 854.08,101.23 855.47,101.06 856.86,100.89 858.25,100.73 859.65,100.56 861.04,100.39 862.43,100.23 863.83,100.06 865.22,99.9 866.61,99.73 868,99.57 869.39,99.41 870.79,99.25 872.18,99.09 873.57,98.93 874.97,98.77 876.36,98.61 877.75,98.46 879.14,98.3 880.53,98.15 881.93,97.99 883.32,97.84 884.71,97.69 886.11,97.53 887.5,97.38 888.89,97.23 890.28,97.08 891.67,96.93 893.07,96.78 894.46,96.64 895.85,96.49 897.25,96.34 898.64,96.2 900.03,96.05 901.42,95.91 902.81,95.76 904.21,95.62 905.6,95.48 906.99,95.34 908.39,95.2 909.78,95.05 911.17,94.91 912.56,94.78 913.95,94.64 915.35,94.5 916.74,94.36 918.13,94.22 919.52,94.09 920.92,93.95 922.31,93.82 923.7,93.68 925.09,93.55 926.49,93.42 927.88,93.28 929.27,93.15 930.66,93.02 932.06,92.89 933.45,92.76 934.84,92.63 936.24,92.5 937.63,92.37 939.02,92.24 940.41,92.11 941.8,91.99 943.2,91.86 944.59,91.73 945.98,91.61 947.38,91.48" fill="none" stroke="#86862a" stroke-width="3.6" stroke-linejoin="round" stroke-linecap="round"/>
<rect x="181.5" y="20.3" width="835.5" height="604.5" fill="none" stroke="#000" stroke-width="4.5"/>
<line x1="181.5" y1="637.4" x2="181.5" y2="626.8" stroke="#000" stroke-width="4" stroke-linecap="round"/>
<line x1="251.12" y1="630.5" x2="251.12" y2="626.8" stroke="#000" stroke-width="4" stroke-linecap="round"/>
<line x1="320.75" y1="637.4" x2="320.75" y2="626.8" stroke="#000" stroke-width="4" stroke-linecap="round"/>
<line x1="390.38" y1="630.5" x2="390.38" y2="626.8" stroke="#000" stroke-width="4" stroke-linecap="round"/>
<line x1="460" y1="637.4" x2="460" y2="626.8" stroke="#000" stroke-width="4" stroke-linecap="round"/>
<line x1="529.62" y1="630.5" x2="529.62" y2="626.8" stroke="#000" stroke-width="4" stroke-linecap="round"/>
<line x1="599.25" y1="637.4" x2="599.25" y2="626.8" stroke="#000" stroke-width="4" stroke-linecap="round"/>
<line x1="668.88" y1="630.5" x2="668.88" y2="626.8" stroke="#000" stroke-width="4" stroke-linecap="round"/>
<line x1="738.5" y1="637.4" x2="738.5" y2="626.8" stroke="#000" stroke-width="4" stroke-linecap="round"/>
<line x1="808.12" y1="630.5" x2="808.12" y2="626.8" stroke="#000" stroke-width="4" stroke-linecap="round"/>
<line x1="877.75" y1="637.4" x2="877.75" y2="626.8" stroke="#000" stroke-width="4" stroke-linecap="round"/>
<line x1="947.38" y1="630.5" x2="947.38" y2="626.8" stroke="#000" stroke-width="4" stroke-linecap="round"/>
<line x1="1017" y1="637.4" x2="1017" y2="626.8" stroke="#000" stroke-width="4" stroke-linecap="round"/>
<line x1="169" y1="573.98" x2="179.5" y2="573.98" stroke="#000" stroke-width="4" stroke-linecap="round"/>
<line x1="169" y1="502.01" x2="179.5" y2="502.01" stroke="#000" stroke-width="4" stroke-linecap="round"/>
<line x1="169" y1="430.04" x2="179.5" y2="430.04" stroke="#000" stroke-width="4" stroke-linecap="round"/>
<line x1="169" y1="358.07" x2="179.5" y2="358.07" stroke="#000" stroke-width="4" stroke-linecap="round"/>
<line x1="169" y1="286.1" x2="179.5" y2="286.1" stroke="#000" stroke-width="4" stroke-linecap="round"/>
<line x1="169" y1="214.13" x2="179.5" y2="214.13" stroke="#000" stroke-width="4" stroke-linecap="round"/>
<line x1="169" y1="142.16" x2="179.5" y2="142.16" stroke="#000" stroke-width="4" stroke-linecap="round"/>
<line x1="169" y1="70.19" x2="179.5" y2="70.19" stroke="#000" stroke-width="4" stroke-linecap="round"/>
<text x="159.7" y="78.99" font-size="33" text-anchor="end" fill="#000" font-weight="bold" font-family="'Liberation Sans', Arial, Helvetica, sans-serif" letter-spacing="-0.8">1000</text>
<text x="159.7" y="150.96" font-size="33" text-anchor="end" fill="#000" font-weight="bold" font-family="'Liberation Sans', Arial, Helvetica, sans-serif" letter-spacing="-0.8">100</text>
<text x="159.7" y="222.93" font-size="33" text-anchor="end" fill="#000" font-weight="bold" font-family="'Liberation Sans', Arial, Helvetica, sans-serif" letter-spacing="-0.8">10</text>
<text x="159.7" y="294.9" font-size="33" text-anchor="end" fill="#000" font-weight="bold" font-family="'Liberation Sans', Arial, Helvetica, sans-serif" letter-spacing="-0.8">1</text>
<text x="159.7" y="366.87" font-size="33" text-anchor="end" fill="#000" font-weight="bold" font-family="'Liberation Sans', Arial, Helvetica, sans-serif" letter-spacing="-0.8">0.1</text>
<text x="159.7" y="438.84" font-size="33" text-anchor="end" fill="#000" font-weight="bold" font-family="'Liberation Sans', Arial, Helvetica, sans-serif" letter-spacing="-0.8">0.01</text>
<text x="159.7" y="510.81" font-size="33" text-anchor="end" fill="#000" font-weight="bold" font-family="'Liberation Sans', Arial, Helvetica, sans-serif" letter-spacing="-0.8">1E-3</text>
<text x="159.7" y="582.78" font-size="33" text-anchor="end" fill="#000" font-weight="bold" font-family="'Liberation Sans', Arial, Helvetica, sans-serif" letter-spacing="-0.8">1E-4</text>
<text x="181.1" y="671" font-size="33" text-anchor="middle" fill="#000" font-weight="bold" font-family="'Liberation Sans', Arial, Helvetica, sans-serif" letter-spacing="-0.8">-6</text>
<text x="320.35" y="671" font-size="33" text-anchor="middle" fill="#000" font-weight="bold" font-family="'Liberation Sans', Arial, Helvetica, sans-serif" letter-spacing="-0.8">-4</text>
<text x="459.6" y="671" font-size="33" text-anchor="middle" fill="#000" font-weight="bold" font-family="'Liberation Sans', Arial, Helvetica, sans-serif" letter-spacing="-0.8">-2</text>
<text x="598.85" y="671" font-size="33" text-anchor="middle" fill="#000" font-weight="bold" font-family="'Liberation Sans', Arial, Helvetica, sans-serif" letter-spacing="-0.8">0</text>
<text x="738.1" y="671" font-size="33" text-anchor="middle" fill="#000" font-weight="bold" font-family="'Liberation Sans', Arial, Helvetica, sans-serif" letter-spacing="-0.8">2</text>
<text x="877.35" y="671" font-size="33" text-anchor="middle" fill="#000" font-weight="bold" font-family="'Liberation Sans', Arial, Helvetica, sans-serif" letter-spacing="-0.8">4</text>
<text x="1016.6" y="671" font-size="33" text-anchor="middle" fill="#000" font-weight="bold" font-family="'Liberation Sans', Arial, Helvetica, sans-serif" letter-spacing="-0.8">6</text>
<text transform="translate(40.5,335.5) rotate(-90)" font-size="38.5" text-anchor="middle" font-weight="bold" font-family="'Liberation Sans', Arial, Helvetica, sans-serif">Current (nA)</text>
<text x="599" y="732.2" font-size="38" text-anchor="middle" font-weight="bold" font-family="'Liberation Sans', Arial, Helvetica, sans-serif">V<tspan font-size="28" dy="14.7">ds</tspan><tspan dy="-14.7"> (V)</tspan></text>
<line x1="749.1" y1="358.7" x2="816.5" y2="358.7" stroke="#000000" stroke-width="3.8" stroke-linecap="round"/>
<text x="823.8" y="369.2" font-size="26.6" text-anchor="start" fill="#000" font-weight="bold" font-family="'Liberation Sans', Arial, Helvetica, sans-serif">In dark</text>
<line x1="749.1" y1="405.62" x2="816.5" y2="405.62" stroke="#e02828" stroke-width="3.8" stroke-linecap="round"/>
<text x="823.8" y="416.12" font-size="26.6" text-anchor="start" fill="#000" font-weight="bold" font-family="'Liberation Sans', Arial, Helvetica, sans-serif">0.1 mW/cm<tspan font-size="18.5" dy="-17.9">2</tspan></text>
<line x1="749.1" y1="452.54" x2="816.5" y2="452.54" stroke="#1a1ae0" stroke-width="3.8" stroke-linecap="round"/>
<text x="823.8" y="463.04" font-size="26.6" text-anchor="start" fill="#000" font-weight="bold" font-family="'Liberation Sans', Arial, Helvetica, sans-serif">0.35 mW/cm<tspan font-size="18.5" dy="-17.9">2</tspan></text>
<line x1="749.1" y1="499.46" x2="816.5" y2="499.46" stroke="#1f8c8c" stroke-width="3.8" stroke-linecap="round"/>
<text x="823.8" y="509.96" font-size="26.6" text-anchor="start" fill="#000" font-weight="bold" font-family="'Liberation Sans', Arial, Helvetica, sans-serif">0.87 mW/cm<tspan font-size="18.5" dy="-17.9">2</tspan></text>
<line x1="749.1" y1="546.38" x2="816.5" y2="546.38" stroke="#f030f0" stroke-width="3.8" stroke-linecap="round"/>
<text x="823.8" y="556.88" font-size="26.6" text-anchor="start" fill="#000" font-weight="bold" font-family="'Liberation Sans', Arial, Helvetica, sans-serif">7 mW/cm<tspan font-size="18.5" dy="-17.9">2</tspan></text>
<line x1="749.1" y1="593.3" x2="816.5" y2="593.3" stroke="#86862a" stroke-width="3.8" stroke-linecap="round"/>
<text x="823.8" y="603.8" font-size="26.6" text-anchor="start" fill="#000" font-weight="bold" font-family="'Liberation Sans', Arial, Helvetica, sans-serif">20 mW/cm<tspan font-size="18.5" dy="-17.9">2</tspan></text>
<text x="8.5" y="80.6" font-size="62" text-anchor="start" fill="#000" font-weight="normal" font-family="'Liberation Serif', 'Times New Roman', serif">(a)</text>
<defs><radialGradient id="gk" cx="0.5" cy="0.5" r="0.5" fx="0.4" fy="0.34"><stop offset="0" stop-color="#e4e4e4"/><stop offset="0.2" stop-color="#9a9a9a"/><stop offset="0.45" stop-color="#1a1a1a"/><stop offset="1" stop-color="#000"/></radialGradient><radialGradient id="gb" cx="0.5" cy="0.5" r="0.5" fx="0.4" fy="0.34"><stop offset="0" stop-color="#e0e0ff"/><stop offset="0.22" stop-color="#8080ff"/><stop offset="0.5" stop-color="#0000ff"/><stop offset="0.85" stop-color="#0000e0"/><stop offset="1" stop-color="#000060"/></radialGradient></defs>
<polyline points="1251.8,107.3 1399.9,216.6 1507.54,295.2 1754.04,367.7 1878.14,463.5" fill="none" stroke="#000" stroke-width="2.3" stroke-linejoin="round" stroke-linecap="round"/>
<polyline points="1251.8,534.1 1399.9,452.2 1507.54,391.2 1754.04,176.1 1878.14,110.8" fill="none" stroke="#1010f0" stroke-width="2.3" stroke-linejoin="round" stroke-linecap="round"/>
<circle cx="1251.8" cy="107.3" r="9.2" fill="#fff"/>
<circle cx="1251.8" cy="107.3" r="7.0" fill="url(#gk)"/>
<circle cx="1399.9" cy="216.6" r="9.2" fill="#fff"/>
<circle cx="1399.9" cy="216.6" r="7.0" fill="url(#gk)"/>
<circle cx="1507.54" cy="295.2" r="9.2" fill="#fff"/>
<circle cx="1507.54" cy="295.2" r="7.0" fill="url(#gk)"/>
<circle cx="1754.04" cy="367.7" r="9.2" fill="#fff"/>
<circle cx="1754.04" cy="367.7" r="7.0" fill="url(#gk)"/>
<circle cx="1878.14" cy="463.5" r="9.2" fill="#fff"/>
<circle cx="1878.14" cy="463.5" r="7.0" fill="url(#gk)"/>
<circle cx="1251.8" cy="534.1" r="9.2" fill="#fff"/>
<circle cx="1251.8" cy="534.1" r="7.0" fill="url(#gb)"/>
<circle cx="1399.9" cy="452.2" r="9.2" fill="#fff"/>
<circle cx="1399.9" cy="452.2" r="7.0" fill="url(#gb)"/>
<circle cx="1507.54" cy="391.2" r="9.2" fill="#fff"/>
<circle cx="1507.54" cy="391.2" r="7.0" fill="url(#gb)"/>
<circle cx="1754.04" cy="176.1" r="9.2" fill="#fff"/>
<circle cx="1754.04" cy="176.1" r="7.0" fill="url(#gb)"/>
<circle cx="1878.14" cy="110.8" r="9.2" fill="#fff"/>
<circle cx="1878.14" cy="110.8" r="7.0" fill="url(#gb)"/>
<line x1="1191.4" y1="21.7" x2="1960.4" y2="21.7" stroke="#000" stroke-width="4.2" stroke-linecap="butt"/>
<line x1="1191.4" y1="626.6" x2="1960.4" y2="626.6" stroke="#000" stroke-width="4.2" stroke-linecap="butt"/>
<line x1="1191.4" y1="19.6" x2="1191.4" y2="628.7" stroke="#000" stroke-width="4.2" stroke-linecap="butt"/>
<line x1="1960.4" y1="19.6" x2="1960.4" y2="628.7" stroke="#0000ff" stroke-width="4.2" stroke-linecap="butt"/>
<line x1="1191.41" y1="633.3" x2="1191.41" y2="628.4" stroke="#000" stroke-width="3.6" stroke-linecap="round"/>
<line x1="1209.64" y1="633.3" x2="1209.64" y2="628.4" stroke="#000" stroke-width="3.6" stroke-linecap="round"/>
<line x1="1225.42" y1="633.3" x2="1225.42" y2="628.4" stroke="#000" stroke-width="3.6" stroke-linecap="round"/>
<line x1="1239.34" y1="633.3" x2="1239.34" y2="628.4" stroke="#000" stroke-width="3.6" stroke-linecap="round"/>
<line x1="1251.8" y1="638.8" x2="1251.8" y2="628.4" stroke="#000" stroke-width="3.6" stroke-linecap="round"/>
<line x1="1333.74" y1="633.3" x2="1333.74" y2="628.4" stroke="#000" stroke-width="3.6" stroke-linecap="round"/>
<line x1="1381.67" y1="633.3" x2="1381.67" y2="628.4" stroke="#000" stroke-width="3.6" stroke-linecap="round"/>
<line x1="1415.68" y1="633.3" x2="1415.68" y2="628.4" stroke="#000" stroke-width="3.6" stroke-linecap="round"/>
<line x1="1442.06" y1="633.3" x2="1442.06" y2="628.4" stroke="#000" stroke-width="3.6" stroke-linecap="round"/>
<line x1="1463.61" y1="633.3" x2="1463.61" y2="628.4" stroke="#000" stroke-width="3.6" stroke-linecap="round"/>
<line x1="1481.84" y1="633.3" x2="1481.84" y2="628.4" stroke="#000" stroke-width="3.6" stroke-linecap="round"/>
<line x1="1497.62" y1="633.3" x2="1497.62" y2="628.4" stroke="#000" stroke-width="3.6" stroke-linecap="round"/>
<line x1="1511.54" y1="633.3" x2="1511.54" y2="628.4" stroke="#000" stroke-width="3.6" stroke-linecap="round"/>
<line x1="1524" y1="638.8" x2="1524" y2="628.4" stroke="#000" stroke-width="3.6" stroke-linecap="round"/>
<line x1="1605.94" y1="633.3" x2="1605.94" y2="628.4" stroke="#000" stroke-width="3.6" stroke-linecap="round"/>
<line x1="1653.87" y1="633.3" x2="1653.87" y2="628.4" stroke="#000" stroke-width="3.6" stroke-linecap="round"/>
<line x1="1687.88" y1="633.3" x2="1687.88" y2="628.4" stroke="#000" stroke-width="3.6" stroke-linecap="round"/>
<line x1="1714.26" y1="633.3" x2="1714.26" y2="628.4" stroke="#000" stroke-width="3.6" stroke-linecap="round"/>
<line x1="1735.81" y1="633.3" x2="1735.81" y2="628.4" stroke="#000" stroke-width="3.6" stroke-linecap="round"/>
<line x1="1754.04" y1="633.3" x2="1754.04" y2="628.4" stroke="#000" stroke-width="3.6" stroke-linecap="round"/>
<line x1="1769.82" y1="633.3" x2="1769.82" y2="628.4" stroke="#000" stroke-width="3.6" stroke-linecap="round"/>
<line x1="1783.74" y1="633.3" x2="1783.74" y2="628.4" stroke="#000" stroke-width="3.6" stroke-linecap="round"/>
<line x1="1796.2" y1="638.8" x2="1796.2" y2="628.4" stroke="#000" stroke-width="3.6" stroke-linecap="round"/>
<line x1="1878.14" y1="633.3" x2="1878.14" y2="628.4" stroke="#000" stroke-width="3.6" stroke-linecap="round"/>
<line x1="1926.07" y1="633.3" x2="1926.07" y2="628.4" stroke="#000" stroke-width="3.6" stroke-linecap="round"/>
<line x1="1960.08" y1="633.3" x2="1960.08" y2="628.4" stroke="#000" stroke-width="3.6" stroke-linecap="round"/>
<text x="1251.4" y="672.9" font-size="33" text-anchor="middle" fill="#000" font-weight="bold" font-family="'Liberation Sans', Arial, Helvetica, sans-serif" letter-spacing="-0.8">0.1</text>
<text x="1523.6" y="672.9" font-size="33" text-anchor="middle" fill="#000" font-weight="bold" font-family="'Liberation Sans', Arial, Helvetica, sans-serif" letter-spacing="-0.8">1</text>
<text x="1795.8" y="672.9" font-size="33" text-anchor="middle" fill="#000" font-weight="bold" font-family="'Liberation Sans', Arial, Helvetica, sans-serif" letter-spacing="-0.8">10</text>
<line x1="1179.9" y1="626.1" x2="1189.6" y2="626.1" stroke="#000" stroke-width="3.6" stroke-linecap="round"/>
<line x1="1185.7" y1="502.83" x2="1189.6" y2="502.83" stroke="#000" stroke-width="3.6" stroke-linecap="round"/>
<line x1="1185.7" y1="430.72" x2="1189.6" y2="430.72" stroke="#000" stroke-width="3.6" stroke-linecap="round"/>
<line x1="1185.7" y1="379.56" x2="1189.6" y2="379.56" stroke="#000" stroke-width="3.6" stroke-linecap="round"/>
<line x1="1185.7" y1="339.87" x2="1189.6" y2="339.87" stroke="#000" stroke-width="3.6" stroke-linecap="round"/>
<line x1="1185.7" y1="307.45" x2="1189.6" y2="307.45" stroke="#000" stroke-width="3.6" stroke-linecap="round"/>
<line x1="1185.7" y1="280.03" x2="1189.6" y2="280.03" stroke="#000" stroke-width="3.6" stroke-linecap="round"/>
<line x1="1185.7" y1="256.28" x2="1189.6" y2="256.28" stroke="#000" stroke-width="3.6" stroke-linecap="round"/>
<line x1="1185.7" y1="235.34" x2="1189.6" y2="235.34" stroke="#000" stroke-width="3.6" stroke-linecap="round"/>
<line x1="1179.9" y1="216.6" x2="1189.6" y2="216.6" stroke="#000" stroke-width="3.6" stroke-linecap="round"/>
<line x1="1185.7" y1="93.33" x2="1189.6" y2="93.33" stroke="#000" stroke-width="3.6" stroke-linecap="round"/>
<line x1="1185.7" y1="21.22" x2="1189.6" y2="21.22" stroke="#000" stroke-width="3.6" stroke-linecap="round"/>
<text x="1172.2" y="225.4" font-size="33" text-anchor="end" fill="#000" font-weight="bold" font-family="'Liberation Sans', Arial, Helvetica, sans-serif" letter-spacing="-0.8">1</text>
<text x="1168.2" y="635.8" font-size="33" text-anchor="end" fill="#000" font-weight="bold" font-family="'Liberation Sans', Arial, Helvetica, sans-serif" letter-spacing="-0.8">0.1</text>
<line x1="1955.7" y1="626.84" x2="1958.6" y2="626.84" stroke="#0000ff" stroke-width="3.6" stroke-linecap="round"/>
<line x1="1949.7" y1="613.3" x2="1958.6" y2="613.3" stroke="#0000ff" stroke-width="3.6" stroke-linecap="round"/>
<line x1="1955.7" y1="524.2" x2="1958.6" y2="524.2" stroke="#0000ff" stroke-width="3.6" stroke-linecap="round"/>
<line x1="1955.7" y1="472.07" x2="1958.6" y2="472.07" stroke="#0000ff" stroke-width="3.6" stroke-linecap="round"/>
<line x1="1955.7" y1="435.09" x2="1958.6" y2="435.09" stroke="#0000ff" stroke-width="3.6" stroke-linecap="round"/>
<line x1="1955.7" y1="406.4" x2="1958.6" y2="406.4" stroke="#0000ff" stroke-width="3.6" stroke-linecap="round"/>
<line x1="1955.7" y1="382.97" x2="1958.6" y2="382.97" stroke="#0000ff" stroke-width="3.6" stroke-linecap="round"/>
<line x1="1955.7" y1="363.15" x2="1958.6" y2="363.15" stroke="#0000ff" stroke-width="3.6" stroke-linecap="round"/>
<line x1="1955.7" y1="345.99" x2="1958.6" y2="345.99" stroke="#0000ff" stroke-width="3.6" stroke-linecap="round"/>
<line x1="1955.7" y1="330.84" x2="1958.6" y2="330.84" stroke="#0000ff" stroke-width="3.6" stroke-linecap="round"/>
<line x1="1949.7" y1="317.3" x2="1958.6" y2="317.3" stroke="#0000ff" stroke-width="3.6" stroke-linecap="round"/>
<line x1="1955.7" y1="228.2" x2="1958.6" y2="228.2" stroke="#0000ff" stroke-width="3.6" stroke-linecap="round"/>
<line x1="1955.7" y1="176.07" x2="1958.6" y2="176.07" stroke="#0000ff" stroke-width="3.6" stroke-linecap="round"/>
<line x1="1955.7" y1="139.09" x2="1958.6" y2="139.09" stroke="#0000ff" stroke-width="3.6" stroke-linecap="round"/>
<line x1="1955.7" y1="110.4" x2="1958.6" y2="110.4" stroke="#0000ff" stroke-width="3.6" stroke-linecap="round"/>
<line x1="1955.7" y1="86.97" x2="1958.6" y2="86.97" stroke="#0000ff" stroke-width="3.6" stroke-linecap="round"/>
<line x1="1955.7" y1="67.15" x2="1958.6" y2="67.15" stroke="#0000ff" stroke-width="3.6" stroke-linecap="round"/>
<line x1="1955.7" y1="49.99" x2="1958.6" y2="49.99" stroke="#0000ff" stroke-width="3.6" stroke-linecap="round"/>
<line x1="1955.7" y1="34.84" x2="1958.6" y2="34.84" stroke="#0000ff" stroke-width="3.6" stroke-linecap="round"/>
<line x1="1949.7" y1="21.3" x2="1958.6" y2="21.3" stroke="#0000ff" stroke-width="3.6" stroke-linecap="round"/>
<text x="1973.5" y="30.1" font-size="33" text-anchor="start" fill="#0000ff" font-weight="bold" font-family="'Liberation Sans', Arial, Helvetica, sans-serif" letter-spacing="-0.8">1</text>
<text x="1972.5" y="326.1" font-size="33" text-anchor="start" fill="#0000ff" font-weight="bold" font-family="'Liberation Sans', Arial, Helvetica, sans-serif" letter-spacing="-0.8">0.1</text>
<text x="1972.5" y="622.1" font-size="33" text-anchor="start" fill="#0000ff" font-weight="bold" font-family="'Liberation Sans', Arial, Helvetica, sans-serif" letter-spacing="-0.8">0.01</text>
<text transform="translate(1108.5,348) rotate(-90)" font-size="38" text-anchor="middle" font-weight="bold" font-family="'Liberation Sans', Arial, Helvetica, sans-serif">Responsivity (A/W)</text>
<text transform="translate(2051.5,331.7) rotate(-90)" font-size="38" text-anchor="middle" font-weight="bold" fill="#0000ff" font-family="'Liberation Sans', Arial, Helvetica, sans-serif">Photocurrent (&#956;A)</text>
<text transform="translate(1369.9,743.3) scale(0.913,1)" font-size="38" font-weight="bold" font-family="'Liberation Sans', Arial, Helvetica, sans-serif">Power density (mW/cm</text>
<text x="1749.6" y="723.9" font-size="24.5" text-anchor="start" fill="#000" font-weight="normal" font-family="'Liberation Sans', Arial, Helvetica, sans-serif">2</text>
<text x="1762.3" y="743.3" font-size="34" text-anchor="start" fill="#000" font-weight="normal" font-family="'Liberation Sans', Arial, Helvetica, sans-serif">)</text>
<text x="1074.5" y="84.5" font-size="62" text-anchor="start" fill="#000" font-weight="normal" font-family="'Liberation Serif', 'Times New Roman', serif">(b)</text>
<polyline points="258.6,1094.4 265.46,1094.4 272.32,1094.39 279.19,1094.39 286.05,1094.38 292.91,1094.38 299.77,1094.38 306.63,1094.37 313.5,1094.37 320.36,1094.36 327.22,1094.36 334.08,1094.36 340.94,1094.35 347.81,1094.35 354.67,1094.34 361.53,1094.34 368.39,1094.34 375.25,1094.33 382.12,1094.33 388.98,1094.32 395.84,1094.32 402.7,1094.32 409.56,1094.31 416.43,1094.31 423.29,1094.3 430.15,1094.3 437.01,1094.3 443.87,1094.29 450.74,1094.29 457.6,1094.28 464.46,1094.28 471.32,1094.28 478.18,1094.27 485.05,1094.27 491.91,1094.26 498.77,1094.26 505.63,1094.26 512.49,1094.25 519.36,1094.25 526.22,1094.24 533.08,1094.24 539.94,1094.24 546.8,1094.23 553.67,1094.23 560.53,1094.22 567.39,1094.22 574.25,1094.22 581.11,1094.21 587.98,1094.21 594.84,1094.2 601.7,1094.2 608.56,1094.2 615.42,1094.19 622.29,1094.19 629.15,1094.18 636.01,1094.18 642.87,1094.18 649.73,1094.17 656.6,1094.17 663.46,1094.16 670.32,1094.16 677.18,1094.16 684.04,1094.15 690.91,1094.15 697.77,1094.14 704.63,1094.14 711.49,1094.14 718.35,1094.13 725.22,1094.13 732.08,1094.12 738.94,1094.12 745.8,1094.12 752.66,1094.11 759.53,1094.11 766.39,1094.1 773.25,1094.1 780.11,1094.1 786.97,1094.09 793.84,1094.09 800.7,1094.08 807.56,1094.08 814.42,1094.08 821.28,1094.07 828.15,1094.07 835.01,1094.06 841.87,1094.06 848.73,1094.06 855.59,1094.05 862.46,1094.05 869.32,1094.04 876.18,1094.04 883.04,1094.04 889.9,1094.03 896.77,1094.03 903.63,1094.02 910.49,1094.02 917.35,1094.02 924.21,1094.01 931.08,1094.01 937.94,1094 944.8,1094" fill="none" stroke="#000" stroke-width="3.5" stroke-linejoin="round" stroke-linecap="round"/>
<polyline points="258.6,1339.92 265.46,1335.3 272.32,1330.66 279.19,1326 286.05,1321.33 292.91,1316.64 299.77,1311.93 306.63,1307.21 313.5,1302.47 320.36,1297.72 327.22,1292.95 334.08,1288.17 340.94,1283.38 347.81,1278.57 354.67,1273.75 361.53,1268.91 368.39,1264.06 375.25,1259.21 382.12,1254.34 388.98,1249.45 395.84,1244.56 402.7,1239.66 409.56,1234.74 416.43,1229.82 423.29,1224.88 430.15,1219.94 437.01,1214.99 443.87,1210.03 450.74,1205.06 457.6,1200.08 464.46,1195.1 471.32,1190.11 478.18,1185.11 485.05,1180.11 491.91,1175.1 498.77,1170.08 505.63,1165.06 512.49,1160.03 519.36,1155 526.22,1149.97 533.08,1144.93 539.94,1139.89 546.8,1134.84 553.67,1129.79 560.53,1124.74 567.39,1119.69 574.25,1114.63 581.11,1109.57 587.98,1104.52 594.84,1099.46 601.7,1094.4 608.56,1089.34 615.42,1084.28 622.29,1079.23 629.15,1074.17 636.01,1069.11 642.87,1064.06 649.73,1059.01 656.6,1053.96 663.46,1048.91 670.32,1043.87 677.18,1038.83 684.04,1033.8 690.91,1028.77 697.77,1023.74 704.63,1018.72 711.49,1013.7 718.35,1008.69 725.22,1003.69 732.08,998.69 738.94,993.7 745.8,988.72 752.66,983.74 759.53,978.77 766.39,973.81 773.25,968.86 780.11,963.92 786.97,958.98 793.84,954.06 800.7,949.14 807.56,944.24 814.42,939.35 821.28,934.46 828.15,929.59 835.01,924.74 841.87,919.89 848.73,915.05 855.59,910.23 862.46,905.42 869.32,900.63 876.18,895.85 883.04,891.08 889.9,886.33 896.77,881.59 903.63,876.87 910.49,872.16 917.35,867.47 924.21,862.8 931.08,858.14 937.94,853.5 944.8,848.88" fill="none" stroke="#e01c1c" stroke-width="3.5" stroke-linejoin="round" stroke-linecap="round"/>
<rect x="190.2" y="797.6" width="823.9" height="593.9" fill="none" stroke="#000" stroke-width="4.2"/>
<line x1="189.98" y1="1403.6" x2="189.98" y2="1393.4" stroke="#000" stroke-width="3.8" stroke-linecap="round"/>
<line x1="258.6" y1="1397.6" x2="258.6" y2="1393.4" stroke="#000" stroke-width="3.8" stroke-linecap="round"/>
<line x1="327.22" y1="1403.6" x2="327.22" y2="1393.4" stroke="#000" stroke-width="3.8" stroke-linecap="round"/>
<line x1="395.84" y1="1397.6" x2="395.84" y2="1393.4" stroke="#000" stroke-width="3.8" stroke-linecap="round"/>
<line x1="464.46" y1="1403.6" x2="464.46" y2="1393.4" stroke="#000" stroke-width="3.8" stroke-linecap="round"/>
<line x1="533.08" y1="1397.6" x2="533.08" y2="1393.4" stroke="#000" stroke-width="3.8" stroke-linecap="round"/>
<line x1="601.7" y1="1403.6" x2="601.7" y2="1393.4" stroke="#000" stroke-width="3.8" stroke-linecap="round"/>
<line x1="670.32" y1="1397.6" x2="670.32" y2="1393.4" stroke="#000" stroke-width="3.8" stroke-linecap="round"/>
<line x1="738.94" y1="1403.6" x2="738.94" y2="1393.4" stroke="#000" stroke-width="3.8" stroke-linecap="round"/>
<line x1="807.56" y1="1397.6" x2="807.56" y2="1393.4" stroke="#000" stroke-width="3.8" stroke-linecap="round"/>
<line x1="876.18" y1="1403.6" x2="876.18" y2="1393.4" stroke="#000" stroke-width="3.8" stroke-linecap="round"/>
<line x1="944.8" y1="1397.6" x2="944.8" y2="1393.4" stroke="#000" stroke-width="3.8" stroke-linecap="round"/>
<line x1="1013.42" y1="1403.6" x2="1013.42" y2="1393.4" stroke="#000" stroke-width="3.8" stroke-linecap="round"/>
<text x="189.58" y="1437" font-size="33" text-anchor="middle" fill="#000" font-weight="bold" font-family="'Liberation Sans', Arial, Helvetica, sans-serif" letter-spacing="-0.8">-6</text>
<text x="326.82" y="1437" font-size="33" text-anchor="middle" fill="#000" font-weight="bold" font-family="'Liberation Sans', Arial, Helvetica, sans-serif" letter-spacing="-0.8">-4</text>
<text x="464.06" y="1437" font-size="33" text-anchor="middle" fill="#000" font-weight="bold" font-family="'Liberation Sans', Arial, Helvetica, sans-serif" letter-spacing="-0.8">-2</text>
<text x="601.3" y="1437" font-size="33" text-anchor="middle" fill="#000" font-weight="bold" font-family="'Liberation Sans', Arial, Helvetica, sans-serif" letter-spacing="-0.8">0</text>
<text x="738.54" y="1437" font-size="33" text-anchor="middle" fill="#000" font-weight="bold" font-family="'Liberation Sans', Arial, Helvetica, sans-serif" letter-spacing="-0.8">2</text>
<text x="875.78" y="1437" font-size="33" text-anchor="middle" fill="#000" font-weight="bold" font-family="'Liberation Sans', Arial, Helvetica, sans-serif" letter-spacing="-0.8">4</text>
<text x="1013.02" y="1437" font-size="33" text-anchor="middle" fill="#000" font-weight="bold" font-family="'Liberation Sans', Arial, Helvetica, sans-serif" letter-spacing="-0.8">6</text>
<line x1="178.1" y1="1391.1" x2="188.3" y2="1391.1" stroke="#000" stroke-width="3.8" stroke-linecap="round"/>
<text x="168.4" y="1399.9" font-size="33" text-anchor="end" fill="#000" font-weight="bold" font-family="'Liberation Sans', Arial, Helvetica, sans-serif" letter-spacing="-0.8">-1000</text>
<line x1="184.1" y1="1361.43" x2="188.3" y2="1361.43" stroke="#000" stroke-width="3.8" stroke-linecap="round"/>
<line x1="178.1" y1="1331.76" x2="188.3" y2="1331.76" stroke="#000" stroke-width="3.8" stroke-linecap="round"/>
<text x="168.4" y="1340.56" font-size="33" text-anchor="end" fill="#000" font-weight="bold" font-family="'Liberation Sans', Arial, Helvetica, sans-serif" letter-spacing="-0.8">-800</text>
<line x1="184.1" y1="1302.09" x2="188.3" y2="1302.09" stroke="#000" stroke-width="3.8" stroke-linecap="round"/>
<line x1="178.1" y1="1272.42" x2="188.3" y2="1272.42" stroke="#000" stroke-width="3.8" stroke-linecap="round"/>
<text x="168.4" y="1281.22" font-size="33" text-anchor="end" fill="#000" font-weight="bold" font-family="'Liberation Sans', Arial, Helvetica, sans-serif" letter-spacing="-0.8">-600</text>
<line x1="184.1" y1="1242.75" x2="188.3" y2="1242.75" stroke="#000" stroke-width="3.8" stroke-linecap="round"/>
<line x1="178.1" y1="1213.08" x2="188.3" y2="1213.08" stroke="#000" stroke-width="3.8" stroke-linecap="round"/>
<text x="168.4" y="1221.88" font-size="33" text-anchor="end" fill="#000" font-weight="bold" font-family="'Liberation Sans', Arial, Helvetica, sans-serif" letter-spacing="-0.8">-400</text>
<line x1="184.1" y1="1183.41" x2="188.3" y2="1183.41" stroke="#000" stroke-width="3.8" stroke-linecap="round"/>
<line x1="178.1" y1="1153.74" x2="188.3" y2="1153.74" stroke="#000" stroke-width="3.8" stroke-linecap="round"/>
<text x="168.4" y="1162.54" font-size="33" text-anchor="end" fill="#000" font-weight="bold" font-family="'Liberation Sans', Arial, Helvetica, sans-serif" letter-spacing="-0.8">-200</text>
<line x1="184.1" y1="1124.07" x2="188.3" y2="1124.07" stroke="#000" stroke-width="3.8" stroke-linecap="round"/>
<line x1="178.1" y1="1094.4" x2="188.3" y2="1094.4" stroke="#000" stroke-width="3.8" stroke-linecap="round"/>
<text x="168.4" y="1103.2" font-size="33" text-anchor="end" fill="#000" font-weight="bold" font-family="'Liberation Sans', Arial, Helvetica, sans-serif" letter-spacing="-0.8">0</text>
<line x1="184.1" y1="1064.73" x2="188.3" y2="1064.73" stroke="#000" stroke-width="3.8" stroke-linecap="round"/>
<line x1="178.1" y1="1035.06" x2="188.3" y2="1035.06" stroke="#000" stroke-width="3.8" stroke-linecap="round"/>
<text x="168.4" y="1043.86" font-size="33" text-anchor="end" fill="#000" font-weight="bold" font-family="'Liberation Sans', Arial, Helvetica, sans-serif" letter-spacing="-0.8">200</text>
<line x1="184.1" y1="1005.39" x2="188.3" y2="1005.39" stroke="#000" stroke-width="3.8" stroke-linecap="round"/>
<line x1="178.1" y1="975.72" x2="188.3" y2="975.72" stroke="#000" stroke-width="3.8" stroke-linecap="round"/>
<text x="168.4" y="984.52" font-size="33" text-anchor="end" fill="#000" font-weight="bold" font-family="'Liberation Sans', Arial, Helvetica, sans-serif" letter-spacing="-0.8">400</text>
<line x1="184.1" y1="946.05" x2="188.3" y2="946.05" stroke="#000" stroke-width="3.8" stroke-linecap="round"/>
<line x1="178.1" y1="916.38" x2="188.3" y2="916.38" stroke="#000" stroke-width="3.8" stroke-linecap="round"/>
<text x="168.4" y="925.18" font-size="33" text-anchor="end" fill="#000" font-weight="bold" font-family="'Liberation Sans', Arial, Helvetica, sans-serif" letter-spacing="-0.8">600</text>
<line x1="184.1" y1="886.71" x2="188.3" y2="886.71" stroke="#000" stroke-width="3.8" stroke-linecap="round"/>
<line x1="178.1" y1="857.04" x2="188.3" y2="857.04" stroke="#000" stroke-width="3.8" stroke-linecap="round"/>
<text x="168.4" y="865.84" font-size="33" text-anchor="end" fill="#000" font-weight="bold" font-family="'Liberation Sans', Arial, Helvetica, sans-serif" letter-spacing="-0.8">800</text>
<line x1="184.1" y1="827.37" x2="188.3" y2="827.37" stroke="#000" stroke-width="3.8" stroke-linecap="round"/>
<line x1="178.1" y1="797.7" x2="188.3" y2="797.7" stroke="#000" stroke-width="3.8" stroke-linecap="round"/>
<text x="168.4" y="806.5" font-size="33" text-anchor="end" fill="#000" font-weight="bold" font-family="'Liberation Sans', Arial, Helvetica, sans-serif" letter-spacing="-0.8">1000</text>
<text transform="translate(41,1107) rotate(-90)" font-size="38.5" text-anchor="middle" font-weight="bold" font-family="'Liberation Sans', Arial, Helvetica, sans-serif">Current (nA)</text>
<text x="601.3" y="1496.8" font-size="38" text-anchor="middle" font-weight="bold" font-family="'Liberation Sans', Arial, Helvetica, sans-serif">V<tspan font-size="28" dy="14.7">ds</tspan><tspan dy="-14.7"> (V)</tspan></text>
<line x1="243.2" y1="848.5" x2="308.8" y2="848.5" stroke="#000" stroke-width="4.2" stroke-linecap="round"/>
<line x1="243.2" y1="885.3" x2="308.8" y2="885.3" stroke="#e01c1c" stroke-width="4.2" stroke-linecap="round"/>
<text x="317.5" y="858.5" font-size="29" text-anchor="start" fill="#000" font-weight="bold" font-family="'Liberation Sans', Arial, Helvetica, sans-serif">In dark</text>
<text x="317.5" y="895" font-size="29" text-anchor="start" fill="#000" font-weight="bold" font-family="'Liberation Sans', Arial, Helvetica, sans-serif">635 nm light</text>
<text x="1" y="828" font-size="62" text-anchor="start" fill="#000" font-weight="normal" font-family="'Liberation Serif', 'Times New Roman', serif">(c)</text>
<polyline points="1282.3,1090.4 1289,1090.4 1295.7,1090.41 1302.4,1090.41 1309.1,1090.42 1315.8,1090.42 1322.5,1090.42 1329.2,1090.43 1335.9,1090.43 1342.6,1090.44 1349.3,1090.44 1356,1090.44 1362.7,1090.45 1369.4,1090.45 1376.1,1090.46 1382.8,1090.46 1389.5,1090.46 1396.2,1090.47 1402.9,1090.47 1409.6,1090.48 1416.3,1090.48 1423,1090.48 1429.7,1090.49 1436.4,1090.49 1443.1,1090.5 1449.8,1090.5 1456.5,1090.5 1463.2,1090.51 1469.9,1090.51 1476.6,1090.52 1483.3,1090.52 1490,1090.52 1496.7,1090.53 1503.4,1090.53 1510.1,1090.54 1516.8,1090.54 1523.5,1090.54 1530.2,1090.55 1536.9,1090.55 1543.6,1090.56 1550.3,1090.56 1557,1090.56 1563.7,1090.57 1570.4,1090.57 1577.1,1090.58 1583.8,1090.58 1590.5,1090.58 1597.2,1090.59 1603.9,1090.59 1610.6,1090.6 1617.3,1090.6 1624,1090.6 1630.7,1090.61 1637.4,1090.61 1644.1,1090.62 1650.8,1090.62 1657.5,1090.62 1664.2,1090.63 1670.9,1090.63 1677.6,1090.64 1684.3,1090.64 1691,1090.64 1697.7,1090.65 1704.4,1090.65 1711.1,1090.66 1717.8,1090.66 1724.5,1090.66 1731.2,1090.67 1737.9,1090.67 1744.6,1090.68 1751.3,1090.68 1758,1090.68 1764.7,1090.69 1771.4,1090.69 1778.1,1090.7 1784.8,1090.7 1791.5,1090.7 1798.2,1090.71 1804.9,1090.71 1811.6,1090.72 1818.3,1090.72 1825,1090.72 1831.7,1090.73 1838.4,1090.73 1845.1,1090.74 1851.8,1090.74 1858.5,1090.74 1865.2,1090.75 1871.9,1090.75 1878.6,1090.76 1885.3,1090.76 1892,1090.76 1898.7,1090.77 1905.4,1090.77 1912.1,1090.78 1918.8,1090.78 1925.5,1090.78 1932.2,1090.79 1938.9,1090.79 1945.6,1090.8 1952.3,1090.8" fill="none" stroke="#000" stroke-width="3.3" stroke-linejoin="round" stroke-linecap="round"/>
<polyline points="1282.3,1338.24 1289,1333.59 1295.7,1328.93 1302.4,1324.25 1309.1,1319.56 1315.8,1314.85 1322.5,1310.12 1329.2,1305.37 1335.9,1300.62 1342.6,1295.84 1349.3,1291.05 1356,1286.25 1362.7,1281.43 1369.4,1276.6 1376.1,1271.76 1382.8,1266.9 1389.5,1262.03 1396.2,1257.15 1402.9,1252.26 1409.6,1247.36 1416.3,1242.44 1423,1237.51 1429.7,1232.58 1436.4,1227.63 1443.1,1222.67 1449.8,1217.71 1456.5,1212.74 1463.2,1207.75 1469.9,1202.76 1476.6,1197.76 1483.3,1192.76 1490,1187.74 1496.7,1182.72 1503.4,1177.69 1510.1,1172.66 1516.8,1167.62 1523.5,1162.58 1530.2,1157.53 1536.9,1152.48 1543.6,1147.42 1550.3,1142.36 1557,1137.29 1563.7,1132.22 1570.4,1127.15 1577.1,1122.08 1583.8,1117 1590.5,1111.92 1597.2,1106.84 1603.9,1101.76 1610.6,1096.68 1617.3,1091.6 1624,1086.52 1630.7,1081.44 1637.4,1076.36 1644.1,1071.28 1650.8,1066.2 1657.5,1061.12 1664.2,1056.05 1670.9,1050.98 1677.6,1045.91 1684.3,1040.84 1691,1035.78 1697.7,1030.72 1704.4,1025.67 1711.1,1020.62 1717.8,1015.58 1724.5,1010.54 1731.2,1005.51 1737.9,1000.48 1744.6,995.46 1751.3,990.44 1758,985.44 1764.7,980.44 1771.4,975.45 1778.1,970.46 1784.8,965.49 1791.5,960.53 1798.2,955.57 1804.9,950.62 1811.6,945.69 1818.3,940.76 1825,935.84 1831.7,930.94 1838.4,926.05 1845.1,921.17 1851.8,916.3 1858.5,911.44 1865.2,906.6 1871.9,901.77 1878.6,896.95 1885.3,892.15 1892,887.36 1898.7,882.58 1905.4,877.83 1912.1,873.08 1918.8,868.35 1925.5,863.64 1932.2,858.95 1938.9,854.27 1945.6,849.61 1952.3,844.96" fill="none" stroke="#ee22ee" stroke-width="3.2" stroke-linejoin="round" stroke-linecap="round"/>
<rect x="1215.6" y="794.5" width="805" height="595.5" fill="none" stroke="#000" stroke-width="4"/>
<line x1="1215.3" y1="1402.1" x2="1215.3" y2="1391.9" stroke="#000" stroke-width="3.8" stroke-linecap="round"/>
<line x1="1282.3" y1="1396.1" x2="1282.3" y2="1391.9" stroke="#000" stroke-width="3.8" stroke-linecap="round"/>
<line x1="1349.3" y1="1402.1" x2="1349.3" y2="1391.9" stroke="#000" stroke-width="3.8" stroke-linecap="round"/>
<line x1="1416.3" y1="1396.1" x2="1416.3" y2="1391.9" stroke="#000" stroke-width="3.8" stroke-linecap="round"/>
<line x1="1483.3" y1="1402.1" x2="1483.3" y2="1391.9" stroke="#000" stroke-width="3.8" stroke-linecap="round"/>
<line x1="1550.3" y1="1396.1" x2="1550.3" y2="1391.9" stroke="#000" stroke-width="3.8" stroke-linecap="round"/>
<line x1="1617.3" y1="1402.1" x2="1617.3" y2="1391.9" stroke="#000" stroke-width="3.8" stroke-linecap="round"/>
<line x1="1684.3" y1="1396.1" x2="1684.3" y2="1391.9" stroke="#000" stroke-width="3.8" stroke-linecap="round"/>
<line x1="1751.3" y1="1402.1" x2="1751.3" y2="1391.9" stroke="#000" stroke-width="3.8" stroke-linecap="round"/>
<line x1="1818.3" y1="1396.1" x2="1818.3" y2="1391.9" stroke="#000" stroke-width="3.8" stroke-linecap="round"/>
<line x1="1885.3" y1="1402.1" x2="1885.3" y2="1391.9" stroke="#000" stroke-width="3.8" stroke-linecap="round"/>
<line x1="1952.3" y1="1396.1" x2="1952.3" y2="1391.9" stroke="#000" stroke-width="3.8" stroke-linecap="round"/>
<line x1="2019.3" y1="1402.1" x2="2019.3" y2="1391.9" stroke="#000" stroke-width="3.8" stroke-linecap="round"/>
<text x="1214.9" y="1435.6" font-size="33" text-anchor="middle" fill="#000" font-weight="bold" font-family="'Liberation Sans', Arial, Helvetica, sans-serif" letter-spacing="-0.8">-6</text>
<text x="1348.9" y="1435.6" font-size="33" text-anchor="middle" fill="#000" font-weight="bold" font-family="'Liberation Sans', Arial, Helvetica, sans-serif" letter-spacing="-0.8">-4</text>
<text x="1482.9" y="1435.6" font-size="33" text-anchor="middle" fill="#000" font-weight="bold" font-family="'Liberation Sans', Arial, Helvetica, sans-serif" letter-spacing="-0.8">-2</text>
<text x="1616.9" y="1435.6" font-size="33" text-anchor="middle" fill="#000" font-weight="bold" font-family="'Liberation Sans', Arial, Helvetica, sans-serif" letter-spacing="-0.8">0</text>
<text x="1750.9" y="1435.6" font-size="33" text-anchor="middle" fill="#000" font-weight="bold" font-family="'Liberation Sans', Arial, Helvetica, sans-serif" letter-spacing="-0.8">2</text>
<text x="1884.9" y="1435.6" font-size="33" text-anchor="middle" fill="#000" font-weight="bold" font-family="'Liberation Sans', Arial, Helvetica, sans-serif" letter-spacing="-0.8">4</text>
<text x="2018.9" y="1435.6" font-size="33" text-anchor="middle" fill="#000" font-weight="bold" font-family="'Liberation Sans', Arial, Helvetica, sans-serif" letter-spacing="-0.8">6</text>
<line x1="1204" y1="1389.35" x2="1213.7" y2="1389.35" stroke="#000" stroke-width="3.8" stroke-linecap="round"/>
<text x="1195" y="1398.15" font-size="33" text-anchor="end" fill="#000" font-weight="bold" font-family="'Liberation Sans', Arial, Helvetica, sans-serif" letter-spacing="-0.8">-300</text>
<line x1="1209.5" y1="1339.72" x2="1213.7" y2="1339.72" stroke="#000" stroke-width="3.8" stroke-linecap="round"/>
<line x1="1204" y1="1290.1" x2="1213.7" y2="1290.1" stroke="#000" stroke-width="3.8" stroke-linecap="round"/>
<text x="1195" y="1298.9" font-size="33" text-anchor="end" fill="#000" font-weight="bold" font-family="'Liberation Sans', Arial, Helvetica, sans-serif" letter-spacing="-0.8">-200</text>
<line x1="1209.5" y1="1240.47" x2="1213.7" y2="1240.47" stroke="#000" stroke-width="3.8" stroke-linecap="round"/>
<line x1="1204" y1="1190.85" x2="1213.7" y2="1190.85" stroke="#000" stroke-width="3.8" stroke-linecap="round"/>
<text x="1195" y="1199.65" font-size="33" text-anchor="end" fill="#000" font-weight="bold" font-family="'Liberation Sans', Arial, Helvetica, sans-serif" letter-spacing="-0.8">-100</text>
<line x1="1209.5" y1="1141.22" x2="1213.7" y2="1141.22" stroke="#000" stroke-width="3.8" stroke-linecap="round"/>
<line x1="1204" y1="1091.6" x2="1213.7" y2="1091.6" stroke="#000" stroke-width="3.8" stroke-linecap="round"/>
<text x="1195" y="1100.4" font-size="33" text-anchor="end" fill="#000" font-weight="bold" font-family="'Liberation Sans', Arial, Helvetica, sans-serif" letter-spacing="-0.8">0</text>
<line x1="1209.5" y1="1041.97" x2="1213.7" y2="1041.97" stroke="#000" stroke-width="3.8" stroke-linecap="round"/>
<line x1="1204" y1="992.35" x2="1213.7" y2="992.35" stroke="#000" stroke-width="3.8" stroke-linecap="round"/>
<text x="1195" y="1001.15" font-size="33" text-anchor="end" fill="#000" font-weight="bold" font-family="'Liberation Sans', Arial, Helvetica, sans-serif" letter-spacing="-0.8">100</text>
<line x1="1209.5" y1="942.72" x2="1213.7" y2="942.72" stroke="#000" stroke-width="3.8" stroke-linecap="round"/>
<line x1="1204" y1="893.1" x2="1213.7" y2="893.1" stroke="#000" stroke-width="3.8" stroke-linecap="round"/>
<text x="1195" y="901.9" font-size="33" text-anchor="end" fill="#000" font-weight="bold" font-family="'Liberation Sans', Arial, Helvetica, sans-serif" letter-spacing="-0.8">200</text>
<line x1="1209.5" y1="843.47" x2="1213.7" y2="843.47" stroke="#000" stroke-width="3.8" stroke-linecap="round"/>
<line x1="1204" y1="793.85" x2="1213.7" y2="793.85" stroke="#000" stroke-width="3.8" stroke-linecap="round"/>
<text x="1195" y="802.65" font-size="33" text-anchor="end" fill="#000" font-weight="bold" font-family="'Liberation Sans', Arial, Helvetica, sans-serif" letter-spacing="-0.8">300</text>
<text transform="translate(1088,1105.4) rotate(-90)" font-size="38.5" text-anchor="middle" font-weight="bold" font-family="'Liberation Sans', Arial, Helvetica, sans-serif">Current (nA)</text>
<text x="1617.2" y="1495.3" font-size="38" text-anchor="middle" font-weight="bold" font-family="'Liberation Sans', Arial, Helvetica, sans-serif">V<tspan font-size="28" dy="14.7">ds</tspan><tspan dy="-14.7"> (V)</tspan></text>
<line x1="1292" y1="844.6" x2="1354.6" y2="844.6" stroke="#000" stroke-width="4" stroke-linecap="round"/>
<line x1="1292" y1="881.3" x2="1354.6" y2="881.3" stroke="#ee22ee" stroke-width="4" stroke-linecap="round"/>
<text x="1363.5" y="855.2" font-size="29" text-anchor="start" fill="#000" font-weight="bold" font-family="'Liberation Sans', Arial, Helvetica, sans-serif">In dark</text>
<text x="1363.5" y="891.7" font-size="29" text-anchor="start" fill="#000" font-weight="bold" font-family="'Liberation Sans', Arial, Helvetica, sans-serif">808 nm light</text>
<text x="1051" y="832.2" font-size="62" text-anchor="start" fill="#000" font-weight="normal" font-family="'Liberation Serif', 'Times New Roman', serif">(d)</text></svg>
</body></html>
